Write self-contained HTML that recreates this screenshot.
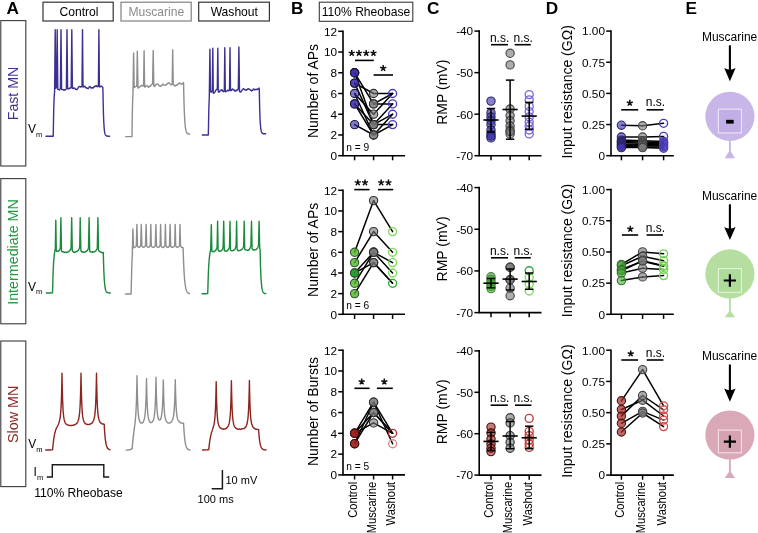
<!DOCTYPE html>
<html><head><meta charset="utf-8"><title>Figure</title>
<style>
html,body{margin:0;padding:0;background:#fff;}
svg{display:block;will-change:transform;}
text{font-family:"Liberation Sans",sans-serif;}
</style></head>
<body>
<svg width="758" height="533" viewBox="0 0 758 533">
<rect width="758" height="533" fill="#ffffff"/>
<g id="A">
<text x="6.4" y="13.5" font-size="17.2" fill="#000" text-anchor="start" font-weight="bold">A</text>
<rect x="43" y="2.2" width="70.2" height="18.8" fill="none" stroke="#333" stroke-width="1.2"/>
<text x="79" y="15.6" font-size="12.1" fill="#000" text-anchor="middle" font-weight="normal">Control</text>
<rect x="121" y="2.2" width="70.2" height="18.8" fill="none" stroke="#808080" stroke-width="1.2"/>
<text x="156.3" y="15.6" font-size="12.1" fill="#8a8a8a" text-anchor="middle" font-weight="normal">Muscarine</text>
<rect x="198.7" y="2.2" width="70.7" height="18.8" fill="none" stroke="#333" stroke-width="1.2"/>
<text x="234.3" y="15.6" font-size="12.1" fill="#000" text-anchor="middle" font-weight="normal">Washout</text>
<rect x="0.8" y="20.6" width="25.0" height="145.4" fill="none" stroke="#3a3a3a" stroke-width="1.1"/>
<rect x="0.8" y="178.6" width="25.0" height="145.2" fill="none" stroke="#3a3a3a" stroke-width="1.1"/>
<rect x="0.8" y="341" width="25.0" height="145.6" fill="none" stroke="#3a3a3a" stroke-width="1.1"/>
<text x="17.9" y="93.5" font-size="14.2" fill="#3d3494" text-anchor="middle" font-weight="normal" transform="rotate(-90 17.9 93.5)">Fast MN</text>
<text x="17.9" y="252" font-size="14.3" fill="#1f9a3d" text-anchor="middle" font-weight="normal" transform="rotate(-90 17.9 252)">Intermediate MN</text>
<text x="18.3" y="414.3" font-size="14.4" fill="#8f2a26" text-anchor="middle" font-weight="normal" transform="rotate(-90 18.3 414.3)">Slow MN</text>
<text x="27.9" y="133.0" font-size="12" fill="#000">V<tspan font-size="7.5" dy="3.6">m</tspan></text>
<text x="27.9" y="290.8" font-size="12" fill="#000">V<tspan font-size="7.5" dy="3.6">m</tspan></text>
<text x="28.3" y="448" font-size="12" fill="#000">V<tspan font-size="7.5" dy="3.6">m</tspan></text>
<text x="33.6" y="476.2" font-size="12" fill="#000">I<tspan font-size="7.5" dy="3.6">m</tspan></text>
<path d="M46.0 136.2 L46.2 136.2 L46.4 136.2 L46.6 136.2 L46.8 136.2 L47.0 136.2 L47.2 136.2 L47.4 136.2 L47.6 136.2 L47.8 136.2 L48.0 136.2 L48.2 136.2 L48.4 136.2 L48.6 136.2 L48.8 136.2 L49.0 136.2 L49.2 136.2 L49.4 136.2 L49.6 136.2 L49.8 136.2 L50.0 136.2 L50.2 136.2 L50.4 136.2 L50.6 136.2 L50.8 136.2 L51.0 136.2 L51.2 136.2 L51.4 136.2 L51.6 136.2 L51.8 136.2 L52.0 136.2 L52.2 136.2 L52.4 136.2 L52.6 136.2 L52.8 136.2 L53.0 136.2 L53.2 136.2 L53.4 127.8 L53.6 115.0 L53.8 106.6 L54.0 100.6 L54.2 96.7 L54.4 93.9 L54.6 91.6 L55.2 29.8 L55.8 88.3 L56.0 88.3 L56.2 87.8 L56.4 87.4 L56.6 87.2 L57.2 29.8 L57.8 89.4 L58.0 89.4 L58.2 89.4 L58.4 89.3 L58.6 89.4 L58.8 89.7 L59.0 89.6 L59.2 89.7 L59.4 89.9 L59.6 89.7 L59.8 89.6 L60.0 89.2 L60.2 88.7 L60.4 88.3 L61.0 29.8 L61.6 89.3 L61.8 89.5 L62.0 89.6 L62.2 89.3 L62.4 89.4 L62.6 89.4 L62.8 89.7 L63.0 89.8 L63.2 89.7 L63.4 90.1 L63.6 89.9 L63.8 89.9 L64.0 90.1 L64.2 89.9 L64.4 90.0 L64.6 89.7 L64.8 89.9 L65.0 90.0 L65.2 89.9 L65.4 90.0 L65.6 89.6 L65.8 89.4 L66.0 89.1 L66.2 88.7 L66.4 88.2 L67.0 29.8 L67.6 88.7 L67.8 88.7 L68.0 88.9 L68.2 89.0 L68.4 88.8 L68.6 88.6 L68.8 88.7 L69.0 88.4 L69.2 88.5 L69.4 88.3 L69.6 88.2 L69.8 88.0 L70.0 88.2 L70.2 88.0 L70.4 87.9 L70.6 87.8 L70.8 87.9 L71.0 87.4 L71.2 87.1 L71.8 29.8 L72.4 88.4 L72.6 88.2 L72.8 88.4 L73.0 88.6 L73.2 88.3 L73.4 88.1 L73.6 87.9 L73.8 87.9 L74.0 88.0 L74.2 88.2 L74.4 88.2 L74.6 88.1 L74.8 88.3 L75.0 88.4 L75.2 88.7 L75.4 89.2 L75.6 89.4 L75.8 89.4 L76.0 89.5 L76.2 89.6 L76.4 89.2 L76.6 89.4 L76.8 89.4 L77.0 89.5 L77.2 89.4 L77.4 89.1 L77.6 88.7 L77.8 88.2 L78.0 88.1 L78.2 87.7 L78.4 87.3 L78.6 87.0 L78.8 86.8 L79.0 86.8 L79.2 86.6 L79.4 86.4 L79.6 86.4 L79.8 86.3 L80.0 86.5 L80.2 86.4 L80.4 86.9 L80.6 87.1 L80.8 87.0 L81.0 86.9 L81.2 86.9 L81.4 86.7 L81.6 86.4 L81.8 86.5 L82.0 86.5 L82.5 29.8 L83.0 86.9 L83.2 86.7 L83.4 86.9 L83.6 86.6 L83.8 86.3 L84.0 86.6 L84.2 86.6 L84.4 86.4 L84.6 86.5 L84.8 86.3 L85.0 86.5 L85.2 87.0 L85.4 87.3 L85.6 87.6 L85.8 87.6 L86.0 87.6 L86.2 87.6 L86.4 87.9 L86.6 88.0 L86.8 88.3 L87.0 88.2 L87.2 88.0 L87.4 88.2 L87.6 88.4 L87.8 88.5 L88.0 88.5 L88.2 88.4 L88.4 88.3 L88.6 87.9 L88.8 87.7 L89.0 87.4 L89.2 87.0 L89.4 86.6 L89.6 86.5 L89.8 86.4 L90.0 86.6 L90.2 87.0 L90.4 87.0 L90.6 87.4 L90.8 87.8 L91.0 88.1 L91.2 88.0 L91.4 87.9 L91.6 87.8 L91.8 87.7 L92.0 87.6 L92.2 87.7 L92.4 88.0 L92.6 88.1 L92.8 88.0 L93.0 87.9 L93.2 87.9 L93.4 87.4 L93.6 87.2 L93.8 87.3 L94.0 87.1 L94.2 87.0 L94.4 86.7 L94.6 86.2 L94.8 86.2 L95.0 85.9 L95.2 86.0 L95.4 86.2 L95.6 86.0 L95.8 85.9 L96.0 86.2 L96.2 86.4 L96.4 86.1 L96.6 86.0 L96.8 85.8 L97.0 86.2 L97.2 86.4 L97.4 86.2 L97.6 86.3 L97.8 86.5 L98.0 86.4 L98.2 86.0 L98.4 85.7 L98.9 29.8 L99.4 86.7 L99.6 86.9 L99.8 86.7 L100.0 86.8 L100.2 86.9 L100.4 86.6 L100.6 86.4 L100.8 86.2 L101.0 86.1 L101.2 86.3 L101.4 86.2 L101.6 86.3 L101.8 86.3 L102.0 86.7 L102.2 86.8 L102.4 87.0 L102.6 87.2 L102.8 87.5 L103.0 93.1 L103.2 103.8 L103.4 111.7 L103.6 117.8 L103.8 122.4 L104.0 125.8 L104.2 128.4 L104.4 130.3 L104.6 131.8 L104.8 132.9 L105.0 133.7 L105.2 134.3 L105.4 134.8 L105.6 135.1 L105.8 135.4 L106.0 135.6 L106.2 135.8 L106.4 135.9 L106.6 135.9 L106.8 136.0 L107.0 136.1 L107.2 136.1 L107.4 136.1 L107.6 136.1 L107.8 136.2 L108.0 136.2 L108.2 136.2 L108.4 136.2 L108.6 136.2 L108.8 136.2 L109.0 136.2 L109.2 136.2 L109.4 136.2 L109.6 136.2" fill="none" stroke="#3b3193" stroke-width="1.4" stroke-linejoin="round" stroke-linecap="round"/>
<path d="M125.6 136.6 L125.8 136.6 L126.0 136.6 L126.2 136.6 L126.4 136.6 L126.6 136.6 L126.8 136.6 L127.0 136.6 L127.2 136.6 L127.4 136.6 L127.6 136.6 L127.8 136.6 L128.0 136.6 L128.2 136.6 L128.4 136.6 L128.6 136.6 L128.8 136.6 L129.0 136.6 L129.2 136.6 L129.4 136.6 L129.6 136.6 L129.8 136.6 L130.0 136.6 L130.2 136.6 L130.4 136.6 L130.6 136.6 L130.8 136.6 L131.0 136.6 L131.2 136.6 L131.4 136.6 L131.6 136.6 L131.8 136.6 L132.0 136.6 L132.2 120.4 L132.4 109.6 L132.6 102.1 L132.8 97.0 L133.0 93.4 L133.6 53.0 L134.2 87.5 L134.4 87.2 L134.6 87.2 L134.8 87.0 L135.0 86.8 L135.2 86.7 L135.4 86.7 L135.6 86.7 L135.8 86.4 L136.0 86.4 L136.2 86.3 L136.4 86.1 L136.6 86.2 L136.8 86.0 L137.3 51.3 L138.0 88.1 L138.2 88.0 L138.4 88.0 L138.6 87.8 L138.8 87.6 L139.0 87.3 L139.2 87.3 L139.4 87.2 L139.6 87.1 L139.8 87.0 L140.0 86.6 L140.2 86.3 L140.4 86.4 L140.6 86.3 L140.8 85.9 L141.0 85.6 L141.2 85.6 L141.4 85.4 L141.6 85.3 L141.8 85.2 L142.0 85.4 L142.2 85.7 L142.4 86.0 L142.6 85.8 L142.8 85.9 L143.0 86.0 L143.2 85.7 L143.4 85.8 L143.6 85.8 L144.1 50.6 L144.6 87.0 L144.8 87.1 L145.0 86.8 L145.2 86.6 L145.4 86.5 L145.6 86.3 L145.8 86.0 L146.0 85.9 L146.2 86.0 L146.4 85.8 L146.6 85.9 L146.8 86.0 L147.0 85.8 L147.2 85.9 L147.4 86.2 L147.6 86.3 L147.8 86.3 L148.0 86.7 L148.2 87.0 L148.4 87.3 L148.6 87.1 L148.8 86.9 L149.0 86.7 L149.2 86.8 L149.4 86.6 L149.6 86.3 L149.8 86.1 L150.0 86.2 L150.2 86.2 L150.4 85.8 L150.6 85.4 L150.8 85.5 L151.0 85.3 L151.2 85.2 L151.4 84.8 L151.6 84.4 L151.8 84.4 L152.0 84.3 L152.2 84.0 L152.4 84.1 L152.6 84.1 L153.2 50.4 L153.8 86.1 L154.0 86.1 L154.2 86.2 L154.4 86.5 L154.6 86.3 L154.8 86.0 L155.0 85.9 L155.2 85.6 L155.4 85.3 L155.6 85.0 L155.8 84.7 L156.0 84.4 L156.2 84.3 L156.4 84.2 L156.6 84.3 L156.8 84.2 L157.0 84.2 L157.2 84.1 L157.4 84.1 L157.6 84.0 L157.8 84.1 L158.0 84.1 L158.2 84.5 L158.4 84.8 L158.6 84.8 L158.8 85.1 L159.0 85.5 L159.2 85.5 L159.4 85.8 L159.6 85.9 L159.8 86.0 L160.0 86.2 L160.2 86.1 L160.4 86.0 L160.6 86.0 L160.8 86.2 L161.0 85.9 L161.2 85.9 L161.4 85.8 L161.6 85.7 L161.8 85.4 L162.0 85.2 L162.2 84.8 L162.4 84.5 L162.6 84.3 L162.8 84.5 L163.0 84.4 L163.2 84.3 L163.4 84.2 L163.6 84.6 L163.8 84.9 L164.0 85.1 L164.2 85.1 L164.4 85.1 L164.6 85.1 L164.8 85.1 L165.0 85.0 L165.2 85.0 L165.4 84.9 L165.6 85.1 L165.8 85.3 L166.0 85.2 L166.2 84.8 L166.4 84.9 L166.6 84.6 L166.8 84.3 L167.0 83.9 L167.2 83.7 L167.4 83.6 L167.6 83.5 L167.8 83.3 L168.0 83.3 L168.2 83.0 L168.4 83.0 L168.6 82.9 L168.8 83.1 L169.0 83.0 L169.2 83.0 L169.4 83.2 L169.6 83.3 L169.8 83.6 L170.0 83.9 L170.2 84.2 L170.4 84.4 L170.6 84.6 L170.8 84.8 L171.0 84.7 L171.2 84.5 L171.4 84.6 L171.6 84.2 L171.8 84.0 L172.0 83.8 L172.2 83.2 L172.7 49.8 L173.2 84.9 L173.4 84.7 L173.6 84.8 L173.8 84.8 L174.0 85.0 L174.2 85.2 L174.4 85.5 L174.6 85.5 L174.8 85.8 L175.0 85.9 L175.2 86.0 L175.4 85.8 L175.6 85.6 L175.8 85.4 L176.0 85.3 L176.2 85.1 L176.4 85.3 L176.6 85.2 L176.8 85.2 L177.0 85.1 L177.2 85.0 L177.4 84.8 L177.6 84.3 L177.8 84.2 L178.0 84.2 L178.2 84.0 L178.4 83.8 L178.6 83.7 L178.8 83.3 L179.0 83.4 L179.2 83.2 L179.4 83.0 L179.6 82.9 L179.8 83.2 L180.0 83.1 L180.2 83.4 L180.4 83.8 L180.6 83.8 L180.8 83.8 L181.0 83.9 L181.2 84.1 L181.4 84.2 L181.6 84.3 L181.8 84.3 L182.0 84.0 L182.2 83.7 L182.4 83.5 L182.6 83.6 L182.8 83.4 L183.0 83.3 L183.2 82.9 L183.4 82.6 L183.6 83.7 L183.8 93.8 L184.0 101.8 L184.2 108.3 L184.4 113.4 L184.6 117.6 L184.8 120.9 L185.0 123.5 L185.2 125.7 L185.4 127.4 L185.6 128.7 L185.8 129.8 L186.0 130.7 L186.2 131.4 L186.4 132.0 L186.6 132.4 L186.8 132.8 L187.0 133.0 L187.2 133.3 L187.4 133.5 L187.6 133.6 L187.8 133.7 L188.0 133.8 L188.2 133.9 L188.4 134.0 L188.6 134.0 L188.8 134.0 L189.0 134.1 L189.2 134.1 L189.4 134.1 L189.6 134.1 L189.8 134.1" fill="none" stroke="#8e8e8e" stroke-width="1.4" stroke-linejoin="round" stroke-linecap="round"/>
<path d="M202.3 135.0 L202.5 135.0 L202.7 135.0 L202.9 135.0 L203.1 135.0 L203.3 135.0 L203.5 135.0 L203.7 135.0 L203.9 135.0 L204.1 135.0 L204.3 135.0 L204.5 135.0 L204.7 135.0 L204.9 135.0 L205.1 135.0 L205.3 135.0 L205.5 135.0 L205.7 135.0 L205.9 135.0 L206.1 135.0 L206.3 135.0 L206.5 135.0 L206.7 135.0 L206.9 135.0 L207.1 135.0 L207.3 135.0 L207.5 135.0 L207.7 135.0 L207.9 135.0 L208.1 135.0 L208.3 135.0 L208.5 126.8 L208.7 115.0 L208.9 107.0 L209.1 101.4 L209.3 97.4 L209.9 49.3 L210.5 91.7 L210.7 91.8 L210.9 92.0 L211.1 91.5 L211.3 91.5 L211.5 91.6 L211.7 91.9 L211.9 91.7 L212.1 91.4 L212.3 91.1 L212.8 48.2 L213.3 92.9 L213.5 93.3 L213.7 92.9 L213.9 93.0 L214.1 92.9 L214.3 92.9 L214.5 92.7 L214.7 92.2 L214.9 92.2 L215.1 91.8 L215.3 91.2 L215.5 90.7 L215.7 90.5 L215.9 90.3 L216.1 90.0 L216.3 89.7 L216.5 89.5 L216.7 89.4 L216.9 89.5 L217.1 89.1 L217.3 89.2 L217.8 48.2 L218.3 92.0 L218.5 92.0 L218.7 91.9 L218.9 91.8 L219.1 92.1 L219.3 92.0 L219.5 91.8 L219.7 91.5 L219.9 91.2 L220.1 90.7 L220.3 90.3 L220.5 90.4 L220.7 90.2 L220.9 90.4 L221.1 90.1 L221.3 89.9 L221.5 89.9 L221.7 89.7 L221.9 89.8 L222.1 90.2 L222.3 90.5 L222.5 90.8 L222.7 91.0 L222.9 91.3 L223.1 91.6 L223.3 91.6 L223.5 91.7 L223.7 91.3 L223.9 91.3 L224.1 91.1 L224.3 91.0 L224.8 47.8 L225.3 91.8 L225.5 91.8 L225.7 91.5 L225.9 91.3 L226.1 91.3 L226.3 91.5 L226.5 91.1 L226.7 91.1 L226.9 90.8 L227.1 90.8 L227.3 90.6 L227.5 90.4 L227.7 90.2 L227.9 90.1 L228.1 90.4 L228.3 90.5 L228.5 90.3 L228.7 90.6 L228.9 90.8 L229.1 90.7 L229.3 90.2 L229.5 89.8 L230.0 47.8 L230.5 90.4 L230.7 90.5 L230.9 90.6 L231.1 90.7 L231.3 90.4 L231.5 90.2 L231.7 90.0 L231.9 89.8 L232.1 89.6 L232.3 89.2 L232.5 89.1 L232.7 89.5 L232.9 89.3 L233.1 89.4 L233.3 89.6 L233.5 90.0 L233.7 89.9 L233.9 90.0 L234.1 90.0 L234.3 90.1 L234.5 90.3 L234.7 90.7 L234.9 91.0 L235.1 91.3 L235.3 91.0 L235.5 90.6 L235.7 90.8 L235.9 90.9 L236.1 90.8 L236.3 90.7 L236.5 90.2 L236.7 89.9 L236.9 90.1 L237.1 90.1 L237.3 90.1 L237.5 90.2 L237.7 89.7 L237.9 89.3 L238.1 88.9 L238.3 88.7 L238.9 47.0 L239.5 91.6 L239.7 91.8 L239.9 91.6 L240.1 91.9 L240.3 91.8 L240.5 92.0 L240.7 92.0 L240.9 91.8 L241.1 91.4 L241.3 91.1 L241.5 91.0 L241.7 90.9 L241.9 90.4 L242.1 89.9 L242.3 89.8 L242.5 89.7 L242.7 89.4 L242.9 89.1 L243.1 89.1 L243.3 88.7 L243.5 88.6 L243.7 88.6 L243.9 89.0 L244.1 89.1 L244.3 89.5 L244.5 89.5 L244.7 89.4 L244.9 89.4 L245.1 89.8 L245.3 90.1 L245.5 90.0 L245.7 89.8 L245.9 89.8 L246.1 90.0 L246.3 89.9 L246.5 89.8 L246.7 89.8 L246.9 90.0 L247.1 89.7 L247.3 89.3 L247.5 89.1 L247.7 88.9 L247.9 89.0 L248.1 88.7 L248.3 88.9 L248.5 89.0 L248.7 88.9 L248.9 88.8 L249.1 89.1 L249.3 89.1 L249.5 89.4 L249.7 89.4 L249.9 89.4 L250.1 89.7 L250.3 89.8 L250.5 90.3 L250.7 90.4 L250.9 90.4 L251.1 90.3 L251.3 90.4 L251.5 90.6 L251.7 90.9 L251.9 90.6 L252.1 90.5 L252.3 90.3 L252.5 90.5 L252.7 90.1 L252.9 89.7 L253.1 89.3 L253.3 89.1 L253.5 89.3 L253.7 89.4 L253.9 89.4 L254.1 89.6 L254.3 89.8 L254.5 89.5 L254.7 89.3 L254.9 89.5 L255.1 89.7 L255.3 89.4 L255.5 89.6 L255.7 89.6 L255.9 89.6 L256.1 89.6 L256.3 89.4 L256.5 89.2 L256.7 89.2 L256.9 89.2 L257.1 89.6 L257.3 89.3 L257.5 89.5 L257.7 89.2 L257.9 89.0 L258.1 89.1 L258.3 89.1 L258.5 88.9 L258.7 88.4 L258.9 88.2 L259.1 88.1 L259.3 89.3 L259.5 100.3 L259.7 108.6 L259.9 114.9 L260.1 119.6 L260.3 123.1 L260.5 125.8 L260.7 127.8 L260.9 129.3 L261.1 130.4 L261.3 131.2 L261.5 131.9 L261.7 132.4 L261.9 132.7 L262.1 133.0 L262.3 133.2 L262.5 133.3 L262.7 133.5 L262.9 133.5 L263.1 133.6 L263.3 133.7 L263.5 133.7 L263.7 133.7 L263.9 133.7 L264.1 133.8 L264.3 133.8 L264.5 133.8 L264.7 133.8 L264.9 133.8 L265.1 133.8 L265.3 133.8 L265.5 133.8 L265.7 133.8" fill="none" stroke="#3b3193" stroke-width="1.4" stroke-linejoin="round" stroke-linecap="round"/>
<path d="M46.3 293.0 L46.5 293.0 L46.7 293.0 L46.9 293.0 L47.1 293.0 L47.3 293.0 L47.5 293.0 L47.7 293.0 L47.9 293.0 L48.1 293.0 L48.3 293.0 L48.5 293.0 L48.7 293.0 L48.9 293.0 L49.1 293.0 L49.3 293.0 L49.5 293.0 L49.7 293.0 L49.9 293.0 L50.1 293.0 L50.3 293.0 L50.5 293.0 L50.7 293.0 L50.9 293.0 L51.1 293.0 L51.3 292.9 L51.5 292.9 L51.7 292.9 L51.9 292.9 L52.1 292.9 L52.3 292.9 L52.5 292.8 L52.7 287.6 L52.9 279.4 L53.1 273.1 L53.3 268.3 L53.5 264.1 L53.7 261.0 L53.9 258.6 L54.1 256.7 L54.3 254.7 L54.5 253.1 L54.7 251.7 L54.9 250.8 L55.1 249.6 L55.3 248.7 L55.8 220.2 L56.3 251.0 L56.5 251.0 L56.7 251.2 L56.9 251.2 L57.1 251.2 L57.3 251.0 L57.5 251.1 L57.7 251.3 L57.9 251.4 L58.1 251.5 L58.3 251.1 L58.5 250.9 L58.7 250.7 L58.9 250.7 L59.1 250.7 L59.3 250.3 L59.5 249.9 L59.7 249.4 L59.9 249.0 L60.1 248.7 L60.3 247.9 L60.9 217.8 L61.5 251.1 L61.7 251.3 L61.9 251.4 L62.1 251.7 L62.3 251.6 L62.5 251.6 L62.7 251.8 L62.9 251.8 L63.1 251.7 L63.3 251.6 L63.5 251.8 L63.7 251.8 L63.9 252.1 L64.1 252.3 L64.3 252.6 L64.5 252.4 L64.7 252.2 L64.9 252.1 L65.1 252.1 L65.3 252.2 L65.5 252.2 L65.7 252.1 L65.9 252.1 L66.1 252.2 L66.3 252.2 L66.5 252.3 L66.7 252.5 L66.9 252.5 L67.1 252.2 L67.3 252.3 L67.5 252.2 L67.7 252.1 L67.9 252.0 L68.1 252.0 L68.3 251.8 L68.5 251.6 L68.7 251.4 L68.9 251.1 L69.1 251.2 L69.3 251.1 L69.5 250.8 L69.7 250.6 L69.9 250.6 L70.1 250.3 L70.3 249.8 L70.5 249.5 L70.7 249.1 L70.9 248.8 L71.1 248.0 L71.7 217.8 L72.3 250.9 L72.5 251.0 L72.7 251.0 L72.9 251.5 L73.1 251.6 L73.3 251.9 L73.5 252.0 L73.7 252.2 L73.9 252.2 L74.1 252.1 L74.3 252.2 L74.5 252.4 L74.7 252.2 L74.9 252.3 L75.1 252.3 L75.3 252.1 L75.5 252.1 L75.7 251.9 L75.9 251.8 L76.1 251.6 L76.3 251.7 L76.5 251.7 L76.7 251.6 L76.9 251.3 L77.1 251.2 L77.3 251.2 L77.5 251.0 L77.7 250.8 L77.9 250.6 L78.1 250.6 L78.3 250.4 L78.5 250.0 L78.7 249.5 L78.9 249.2 L79.1 248.9 L79.3 248.5 L79.5 247.8 L79.7 247.0 L80.2 217.8 L80.9 250.8 L81.1 251.1 L81.3 251.2 L81.5 251.3 L81.7 251.7 L81.9 252.0 L82.1 252.0 L82.3 251.9 L82.5 252.1 L82.7 252.0 L82.9 251.8 L83.1 252.1 L83.3 252.1 L83.5 252.2 L83.7 252.2 L83.9 252.4 L84.1 252.3 L84.3 252.1 L84.5 251.9 L84.7 251.9 L84.9 252.0 L85.1 252.1 L85.3 251.8 L85.5 251.9 L85.7 251.7 L85.9 251.6 L86.1 251.4 L86.3 251.2 L86.5 251.1 L86.7 251.2 L86.9 250.8 L87.1 250.6 L87.3 250.5 L87.5 250.4 L87.7 249.9 L87.9 249.3 L88.1 249.1 L88.3 248.8 L88.5 248.1 L89.1 217.8 L89.7 251.2 L89.9 251.3 L90.1 251.6 L90.3 251.6 L90.5 251.7 L90.7 251.9 L90.9 252.1 L91.1 252.0 L91.3 252.0 L91.5 252.0 L91.7 252.0 L91.9 252.0 L92.1 251.9 L92.3 251.8 L92.5 252.0 L92.7 252.2 L92.9 252.0 L93.1 252.0 L93.3 252.1 L93.5 251.9 L93.7 252.0 L93.9 251.8 L94.1 251.8 L94.3 251.8 L94.5 251.8 L94.7 251.6 L94.9 251.5 L95.1 251.4 L95.3 251.3 L95.5 251.2 L95.7 251.0 L95.9 250.7 L96.1 250.2 L96.3 250.0 L96.5 249.7 L96.7 249.2 L96.9 248.9 L97.1 248.5 L97.3 247.9 L97.9 217.8 L98.5 250.4 L98.7 250.7 L98.9 250.9 L99.1 251.0 L99.3 251.2 L99.5 251.2 L99.7 251.5 L99.9 251.8 L100.1 251.9 L100.3 251.8 L100.5 251.9 L100.7 251.9 L100.9 252.2 L101.1 252.1 L101.3 252.3 L101.5 252.5 L101.7 252.6 L101.9 252.8 L102.1 252.6 L102.3 252.8 L102.5 252.7 L102.7 252.9 L102.9 253.0 L103.1 252.8 L103.3 252.4 L103.5 260.5 L103.7 267.1 L103.9 272.2 L104.1 276.3 L104.3 279.6 L104.5 282.3 L104.7 284.4 L104.9 286.1 L105.1 287.5 L105.3 288.6 L105.5 289.5 L105.7 290.2 L105.9 290.7 L106.1 291.2 L106.3 291.6 L106.5 291.8 L106.7 292.1 L106.9 292.3 L107.1 292.4 L107.3 292.5 L107.5 292.6 L107.7 292.7 L107.9 292.8 L108.1 292.8 L108.3 292.8 L108.5 292.9 L108.7 292.9 L108.9 292.9 L109.1 292.9 L109.3 292.9 L109.5 293.0 L109.7 293.0 L109.9 293.0 L110.1 293.0 L110.3 293.0" fill="none" stroke="#1c8a3c" stroke-width="1.4" stroke-linejoin="round" stroke-linecap="round"/>
<path d="M125.5 294.0 L125.7 294.0 L125.9 294.0 L126.1 294.0 L126.3 294.0 L126.5 294.0 L126.7 294.0 L126.9 294.0 L127.1 294.0 L127.3 294.0 L127.5 294.0 L127.7 294.0 L127.9 294.0 L128.1 294.0 L128.3 294.0 L128.5 294.0 L128.7 294.0 L128.9 294.0 L129.1 294.0 L129.3 294.0 L129.5 294.0 L129.7 294.0 L129.9 294.0 L130.1 294.0 L130.3 294.0 L130.5 294.0 L130.7 294.0 L130.9 294.0 L131.1 294.0 L131.3 287.3 L131.5 277.2 L131.7 269.3 L131.9 263.4 L132.1 258.8 L132.3 255.1 L132.9 228.9 L133.5 247.8 L133.7 247.7 L133.9 247.6 L134.1 247.5 L134.3 247.4 L134.5 247.3 L134.7 247.2 L134.9 247.1 L135.1 247.1 L135.3 247.0 L135.5 246.9 L135.7 246.6 L135.9 246.4 L136.1 245.9 L136.3 245.5 L136.9 224.4 L137.5 246.2 L137.7 246.4 L137.9 246.8 L138.1 247.0 L138.3 247.1 L138.5 247.2 L138.7 247.2 L138.9 247.3 L139.1 247.3 L139.3 247.2 L139.5 247.2 L139.7 247.0 L139.9 246.8 L140.1 246.6 L140.3 246.3 L140.5 246.0 L140.7 245.5 L141.3 224.4 L141.9 246.0 L142.1 246.3 L142.3 246.6 L142.5 246.8 L142.7 247.0 L142.9 247.1 L143.1 247.2 L143.3 247.2 L143.5 247.2 L143.7 247.2 L143.9 247.1 L144.1 247.0 L144.3 246.9 L144.5 246.7 L144.7 246.6 L144.9 246.3 L145.1 246.1 L145.3 245.8 L145.5 245.3 L146.1 224.4 L146.7 245.9 L146.9 246.2 L147.1 246.6 L147.3 246.9 L147.5 247.1 L147.7 247.2 L147.9 247.2 L148.1 247.1 L148.3 247.2 L148.5 247.2 L148.7 247.1 L148.9 247.1 L149.1 247.0 L149.3 246.9 L149.5 246.8 L149.7 246.5 L149.9 246.2 L150.1 245.7 L150.3 245.2 L150.8 224.4 L151.3 245.7 L151.5 246.2 L151.7 246.6 L151.9 246.8 L152.1 246.9 L152.3 247.1 L152.5 247.2 L152.7 247.3 L152.9 247.4 L153.1 247.3 L153.3 247.3 L153.5 247.2 L153.7 247.1 L153.9 247.1 L154.1 247.1 L154.3 247.0 L154.5 246.8 L154.7 246.6 L154.9 246.4 L155.1 246.0 L155.3 245.6 L155.9 224.4 L156.5 245.9 L156.7 246.3 L156.9 246.6 L157.1 246.9 L157.3 247.1 L157.5 247.2 L157.7 247.2 L157.9 247.3 L158.1 247.3 L158.3 247.3 L158.5 247.2 L158.7 247.2 L158.9 247.1 L159.1 246.9 L159.3 246.8 L159.5 246.5 L159.7 246.1 L159.9 245.6 L160.1 245.2 L160.6 224.4 L161.1 245.9 L161.3 246.3 L161.5 246.7 L161.7 246.9 L161.9 247.1 L162.1 247.3 L162.3 247.4 L162.5 247.4 L162.7 247.5 L162.9 247.5 L163.1 247.5 L163.3 247.4 L163.5 247.4 L163.7 247.2 L163.9 247.0 L164.1 246.8 L164.3 246.5 L164.5 246.1 L164.7 245.8 L164.9 245.2 L165.4 224.4 L165.9 245.7 L166.1 246.1 L166.3 246.3 L166.5 246.6 L166.7 246.9 L166.9 247.0 L167.1 247.2 L167.3 247.2 L167.5 247.2 L167.7 247.2 L167.9 247.2 L168.1 247.2 L168.3 247.2 L168.5 247.0 L168.7 246.9 L168.9 246.7 L169.1 246.5 L169.3 246.0 L169.5 245.5 L170.1 224.4 L170.7 246.2 L170.9 246.5 L171.1 246.8 L171.3 246.9 L171.5 247.0 L171.7 247.2 L171.9 247.2 L172.1 247.2 L172.3 247.3 L172.5 247.2 L172.7 247.2 L172.9 247.1 L173.1 247.1 L173.3 247.0 L173.5 246.9 L173.7 246.9 L173.9 246.7 L174.1 246.5 L174.3 246.2 L174.5 245.7 L174.7 245.1 L175.2 224.4 L175.7 245.9 L175.9 246.2 L176.1 246.6 L176.3 246.8 L176.5 247.0 L176.7 247.1 L176.9 247.1 L177.1 247.1 L177.3 247.2 L177.5 247.3 L177.7 247.2 L177.9 247.2 L178.1 247.1 L178.3 247.0 L178.5 246.8 L178.7 246.7 L178.9 246.4 L179.1 246.1 L179.3 245.7 L179.5 245.2 L180.0 224.4 L180.5 245.8 L180.7 246.2 L180.9 246.5 L181.1 246.8 L181.3 247.1 L181.5 247.3 L181.7 247.4 L181.9 247.4 L182.1 247.5 L182.3 247.5 L182.5 247.6 L182.7 247.5 L182.9 247.6 L183.1 247.6 L183.3 254.2 L183.5 259.9 L183.7 264.8 L183.9 268.9 L184.1 272.5 L184.3 275.6 L184.5 278.2 L184.7 280.4 L184.9 282.4 L185.1 284.0 L185.3 285.5 L185.5 286.7 L185.7 287.7 L185.9 288.6 L186.1 289.4 L186.3 290.0 L186.5 290.6 L186.7 291.1 L186.9 291.5 L187.1 291.9 L187.3 292.2 L187.5 292.4 L187.7 292.7 L187.9 292.8 L188.1 293.0 L188.3 293.2 L188.5 293.3 L188.7 293.4 L188.9 293.5 L189.1 293.5 L189.3 293.6 L189.5 293.7" fill="none" stroke="#8e8e8e" stroke-width="1.4" stroke-linejoin="round" stroke-linecap="round"/>
<path d="M202.1 293.7 L202.3 293.7 L202.5 293.7 L202.7 293.7 L202.9 293.7 L203.1 293.7 L203.3 293.7 L203.5 293.7 L203.7 293.7 L203.9 293.7 L204.1 293.7 L204.3 293.7 L204.5 293.7 L204.7 293.7 L204.9 293.7 L205.1 293.7 L205.3 293.7 L205.5 293.7 L205.7 293.7 L205.9 293.7 L206.1 293.7 L206.3 293.7 L206.5 293.6 L206.7 293.6 L206.9 293.6 L207.1 293.6 L207.3 293.6 L207.5 293.6 L207.7 293.6 L207.9 288.7 L208.1 281.1 L208.3 275.1 L208.5 270.4 L208.7 266.5 L208.9 263.3 L209.1 260.8 L209.3 258.5 L209.5 256.7 L209.7 255.2 L209.9 253.9 L210.1 252.7 L210.3 251.6 L210.5 250.4 L210.7 249.2 L211.3 224.6 L211.9 251.3 L212.1 251.5 L212.3 251.6 L212.5 251.6 L212.7 251.6 L212.9 251.8 L213.1 251.7 L213.3 251.6 L213.5 251.5 L213.7 251.6 L213.9 251.7 L214.1 251.5 L214.3 251.3 L214.5 251.2 L214.7 251.0 L214.9 251.0 L215.1 250.7 L215.3 250.5 L215.5 250.2 L215.7 250.2 L215.9 250.0 L216.1 249.5 L216.3 249.3 L216.5 248.7 L216.7 248.1 L216.9 247.7 L217.1 247.0 L217.6 221.3 L218.1 250.3 L218.3 250.5 L218.5 250.7 L218.7 250.7 L218.9 250.8 L219.1 251.0 L219.3 251.2 L219.5 251.2 L219.7 251.3 L219.9 251.3 L220.1 251.1 L220.3 251.1 L220.5 251.0 L220.7 251.0 L220.9 251.1 L221.1 250.9 L221.3 250.7 L221.5 250.6 L221.7 250.3 L221.9 249.9 L222.1 249.7 L222.3 249.5 L222.5 249.1 L222.7 248.6 L222.9 248.1 L223.1 247.4 L223.7 221.3 L224.3 250.3 L224.5 250.6 L224.7 250.8 L224.9 251.0 L225.1 250.9 L225.3 251.0 L225.5 251.0 L225.7 251.1 L225.9 251.0 L226.1 251.1 L226.3 251.2 L226.5 251.0 L226.7 251.0 L226.9 251.0 L227.1 250.8 L227.3 250.7 L227.5 250.7 L227.7 250.3 L227.9 250.1 L228.1 249.7 L228.3 249.5 L228.5 249.3 L228.7 248.9 L228.9 248.2 L229.1 247.7 L229.3 247.1 L229.5 246.4 L230.0 221.3 L230.5 250.0 L230.7 250.4 L230.9 250.4 L231.1 250.6 L231.3 250.7 L231.5 250.8 L231.7 250.7 L231.9 250.9 L232.1 250.9 L232.3 250.7 L232.5 250.6 L232.7 250.6 L232.9 250.4 L233.1 250.4 L233.3 250.3 L233.5 250.3 L233.7 250.2 L233.9 250.0 L234.1 249.8 L234.3 249.7 L234.5 249.7 L234.7 249.5 L234.9 249.1 L235.1 248.8 L235.3 248.4 L235.5 247.8 L235.7 247.1 L235.9 246.6 L236.1 246.0 L236.6 221.3 L237.1 249.7 L237.3 249.8 L237.5 250.1 L237.7 250.4 L237.9 250.6 L238.1 250.6 L238.3 250.6 L238.5 250.6 L238.7 250.5 L238.9 250.7 L239.1 250.6 L239.3 250.8 L239.5 250.6 L239.7 250.6 L239.9 250.5 L240.1 250.4 L240.3 250.3 L240.5 250.0 L240.7 250.1 L240.9 250.0 L241.1 249.8 L241.3 249.7 L241.5 249.6 L241.7 249.4 L241.9 249.3 L242.1 249.2 L242.3 248.9 L242.5 248.8 L242.7 248.6 L242.9 248.0 L243.1 247.6 L243.3 247.2 L243.5 246.6 L243.7 245.7 L244.2 221.3 L244.7 249.2 L244.9 249.5 L245.1 249.6 L245.3 249.6 L245.5 249.6 L245.7 249.7 L245.9 249.9 L246.1 249.9 L246.3 249.9 L246.5 250.1 L246.7 250.2 L246.9 250.1 L247.1 250.2 L247.3 250.2 L247.5 250.3 L247.7 250.3 L247.9 250.3 L248.1 250.3 L248.3 250.3 L248.5 250.0 L248.7 249.9 L248.9 249.7 L249.1 249.6 L249.3 249.3 L249.5 249.2 L249.7 248.9 L249.9 248.4 L250.1 247.9 L250.3 247.3 L250.5 246.8 L250.7 246.1 L250.9 245.4 L251.5 221.3 L252.1 248.7 L252.3 249.1 L252.5 249.3 L252.7 249.5 L252.9 249.6 L253.1 249.9 L253.3 249.8 L253.5 249.8 L253.7 250.0 L253.9 249.9 L254.1 249.9 L254.3 250.0 L254.5 249.8 L254.7 249.8 L254.9 249.8 L255.1 249.9 L255.3 249.8 L255.5 249.9 L255.7 249.8 L255.9 249.6 L256.1 249.6 L256.3 249.3 L256.5 249.2 L256.7 249.1 L256.9 248.8 L257.1 248.6 L257.3 248.3 L257.5 247.9 L257.7 247.6 L257.9 247.2 L258.1 246.6 L258.3 245.9 L258.5 245.2 L259.1 221.3 L259.7 248.6 L259.9 248.8 L260.1 249.0 L260.3 257.9 L260.5 266.6 L260.7 271.2 L260.9 275.6 L261.1 279.2 L261.3 282.1 L261.5 284.4 L261.7 286.3 L261.9 287.8 L262.1 288.9 L262.3 289.9 L262.5 290.6 L262.7 291.3 L262.9 291.7 L263.1 292.1 L263.3 292.4 L263.5 292.7 L263.7 292.9 L263.9 293.1 L264.1 293.2 L264.3 293.3 L264.5 293.4 L264.7 293.4 L264.9 293.5 L265.1 293.5 L265.3 293.6 L265.5 293.6 L265.7 293.6 L265.9 293.6" fill="none" stroke="#1c8a3c" stroke-width="1.4" stroke-linejoin="round" stroke-linecap="round"/>
<path d="M45.8 450.0 L46.0 450.0 L46.2 450.0 L46.4 450.0 L46.6 450.0 L46.8 450.0 L47.0 450.0 L47.2 450.0 L47.4 450.0 L47.6 450.0 L47.8 450.0 L48.0 450.0 L48.2 450.0 L48.4 450.0 L48.6 450.0 L48.8 450.0 L49.0 450.0 L49.2 450.0 L49.4 450.0 L49.6 450.0 L49.8 450.0 L50.0 450.0 L50.2 450.0 L50.4 449.9 L50.6 449.9 L50.8 449.9 L51.0 449.9 L51.2 449.9 L51.4 449.9 L51.6 449.9 L51.8 449.9 L52.0 449.9 L52.2 449.9 L52.4 449.9 L52.6 449.8 L52.8 447.5 L53.0 445.4 L53.2 443.5 L53.4 441.7 L53.6 440.1 L53.8 438.7 L54.0 437.3 L54.2 436.2 L54.4 435.1 L54.6 434.2 L54.8 433.3 L55.0 432.5 L55.2 431.8 L55.4 431.1 L55.6 430.4 L55.8 429.8 L56.0 429.2 L56.2 428.7 L56.4 428.3 L56.6 427.9 L56.8 427.5 L57.0 427.1 L57.2 426.8 L57.4 426.4 L57.6 426.0 L57.8 425.6 L58.0 425.2 L58.2 424.7 L58.4 424.3 L58.6 423.8 L58.8 423.3 L59.0 422.7 L59.2 422.1 L59.4 421.3 L59.6 420.4 L59.8 419.4 L60.0 418.3 L60.2 417.1 L60.4 415.5 L60.6 413.5 L60.8 411.1 L61.0 408.0 L61.2 404.1 L61.4 399.1 L61.6 392.7 L61.8 384.3 L62.0 373.3 L62.2 384.5 L62.4 393.1 L62.6 399.8 L62.8 404.8 L63.0 408.8 L63.2 411.7 L63.4 414.0 L63.6 415.9 L63.8 417.4 L64.0 418.7 L64.2 419.7 L64.4 420.5 L64.6 421.1 L64.8 421.7 L65.0 422.3 L65.2 422.8 L65.4 423.2 L65.6 423.4 L65.8 423.7 L66.0 423.9 L66.2 424.1 L66.4 424.2 L66.6 424.4 L66.8 424.5 L67.0 424.6 L67.2 424.7 L67.4 424.9 L67.6 424.9 L67.8 425.1 L68.0 425.1 L68.2 425.1 L68.4 425.2 L68.6 425.2 L68.8 425.3 L69.0 425.3 L69.2 425.3 L69.4 425.4 L69.6 425.4 L69.8 425.5 L70.0 425.5 L70.2 425.5 L70.4 425.5 L70.6 425.5 L70.8 425.5 L71.0 425.6 L71.2 425.5 L71.4 425.6 L71.6 425.6 L71.8 425.5 L72.0 425.4 L72.2 425.4 L72.4 425.4 L72.6 425.3 L72.8 425.3 L73.0 425.3 L73.2 425.2 L73.4 425.2 L73.6 425.1 L73.8 425.0 L74.0 425.0 L74.2 424.9 L74.4 424.9 L74.6 424.8 L74.8 424.7 L75.0 424.6 L75.2 424.5 L75.4 424.4 L75.6 424.3 L75.8 424.2 L76.0 424.0 L76.2 423.9 L76.4 423.8 L76.6 423.6 L76.8 423.3 L77.0 423.0 L77.2 422.7 L77.4 422.4 L77.6 422.1 L77.8 421.7 L78.0 421.2 L78.2 420.6 L78.4 420.1 L78.6 419.4 L78.8 418.5 L79.0 417.4 L79.2 416.1 L79.4 414.6 L79.6 412.7 L79.8 410.3 L80.0 407.3 L80.2 403.6 L80.4 398.7 L80.6 392.4 L80.8 384.1 L81.0 373.3 L81.2 384.3 L81.4 392.8 L81.6 399.3 L81.8 404.4 L82.0 408.3 L82.2 411.3 L82.4 413.6 L82.6 415.5 L82.8 416.9 L83.0 418.1 L83.2 419.1 L83.4 419.9 L83.6 420.6 L83.8 421.2 L84.0 421.7 L84.2 422.0 L84.4 422.4 L84.6 422.7 L84.8 422.9 L85.0 423.2 L85.2 423.5 L85.4 423.6 L85.6 423.7 L85.8 423.9 L86.0 424.0 L86.2 424.1 L86.4 424.1 L86.6 424.2 L86.8 424.3 L87.0 424.4 L87.2 424.3 L87.4 424.4 L87.6 424.5 L87.8 424.5 L88.0 424.5 L88.2 424.5 L88.4 424.6 L88.6 424.6 L88.8 424.5 L89.0 424.5 L89.2 424.4 L89.4 424.3 L89.6 424.2 L89.8 424.2 L90.0 424.2 L90.2 424.1 L90.4 424.0 L90.6 423.9 L90.8 423.8 L91.0 423.6 L91.2 423.6 L91.4 423.4 L91.6 423.2 L91.8 423.1 L92.0 423.0 L92.2 422.7 L92.4 422.5 L92.6 422.2 L92.8 421.9 L93.0 421.5 L93.2 421.1 L93.4 420.7 L93.6 420.3 L93.8 419.7 L94.0 419.1 L94.2 418.2 L94.4 417.3 L94.6 416.2 L94.8 414.9 L95.0 413.2 L95.2 411.1 L95.4 408.6 L95.6 405.2 L95.8 400.9 L96.0 395.4 L96.2 388.2 L96.4 378.9 L96.5 373.2 L96.6 379.0 L96.8 388.6 L97.0 395.9 L97.2 401.7 L97.4 406.2 L97.6 409.4 L97.8 412.0 L98.0 414.0 L98.2 415.6 L98.4 417.0 L98.6 418.0 L98.8 418.9 L99.0 419.6 L99.2 420.3 L99.4 420.9 L99.6 421.3 L99.8 421.7 L100.0 421.9 L100.2 422.3 L100.4 422.6 L100.6 422.8 L100.8 422.9 L101.0 423.0 L101.2 423.2 L101.4 423.4 L101.6 423.5 L101.8 423.7 L102.0 423.7 L102.2 423.8 L102.4 423.9 L102.6 424.0 L102.8 424.1 L103.0 424.1 L103.2 424.0 L103.4 424.1 L103.6 424.2 L103.8 424.2 L104.0 424.2 L104.2 424.2 L104.4 427.9 L104.6 431.0 L104.8 433.7 L105.0 436.1 L105.2 438.1 L105.4 439.8 L105.6 441.2 L105.8 442.5 L106.0 443.6 L106.2 444.5 L106.4 445.3 L106.6 446.0 L106.8 446.5 L107.0 447.0 L107.2 447.5 L107.4 447.8 L107.6 448.2 L107.8 448.4 L108.0 448.7 L108.2 448.8 L108.4 449.0 L108.6 449.2 L108.8 449.3 L109.0 449.4 L109.2 449.5 L109.4 449.6 L109.6 449.6 L109.8 449.7 L110.0 449.7" fill="none" stroke="#8c241f" stroke-width="1.4" stroke-linejoin="round" stroke-linecap="round"/>
<path d="M126.0 450.1 L126.2 450.1 L126.4 450.1 L126.6 450.1 L126.8 450.1 L127.0 450.1 L127.2 450.1 L127.4 450.1 L127.6 450.0 L127.8 450.0 L128.0 450.0 L128.2 450.0 L128.4 450.0 L128.6 449.9 L128.8 449.9 L129.0 449.9 L129.2 449.8 L129.4 449.8 L129.6 449.8 L129.8 449.7 L130.0 449.7 L130.2 449.6 L130.4 449.5 L130.6 449.5 L130.8 449.4 L131.0 449.3 L131.2 449.2 L131.4 449.1 L131.6 449.0 L131.8 448.9 L132.0 448.7 L132.2 448.6 L132.4 445.9 L132.6 443.5 L132.8 441.2 L133.0 439.2 L133.2 437.2 L133.4 435.5 L133.6 433.8 L133.8 432.2 L134.0 430.7 L134.2 429.2 L134.4 427.8 L134.6 426.3 L134.8 424.8 L135.0 423.1 L135.2 421.3 L135.4 419.3 L135.6 417.0 L135.8 414.3 L136.0 411.0 L136.2 407.0 L136.4 401.8 L136.6 395.2 L136.8 386.7 L137.0 375.8 L137.2 386.7 L137.4 395.0 L137.6 401.3 L137.8 406.1 L138.0 409.9 L138.2 412.7 L138.4 414.9 L138.6 416.5 L138.8 417.8 L139.0 418.9 L139.2 419.8 L139.4 420.5 L139.6 421.1 L139.8 421.6 L140.0 422.0 L140.2 422.3 L140.4 422.5 L140.6 422.7 L140.8 422.9 L141.0 423.0 L141.2 423.0 L141.4 423.1 L141.6 423.1 L141.8 423.1 L142.0 423.0 L142.2 423.0 L142.4 422.8 L142.6 422.7 L142.8 422.6 L143.0 422.3 L143.2 422.0 L143.4 421.6 L143.6 421.2 L143.8 420.6 L144.0 420.1 L144.2 419.4 L144.4 418.7 L144.6 417.7 L144.8 416.4 L145.0 414.8 L145.2 413.0 L145.4 410.5 L145.6 407.5 L145.8 403.6 L146.0 398.7 L146.2 392.1 L146.4 383.6 L146.5 378.4 L146.6 383.7 L146.8 392.4 L147.0 399.1 L147.2 404.3 L147.4 408.3 L147.6 411.3 L147.8 413.7 L148.0 415.4 L148.2 416.9 L148.4 418.0 L148.6 418.9 L148.8 419.7 L149.0 420.4 L149.2 420.8 L149.4 421.2 L149.6 421.5 L149.8 421.8 L150.0 422.1 L150.2 422.2 L150.4 422.3 L150.6 422.5 L150.8 422.6 L151.0 422.6 L151.2 422.6 L151.4 422.5 L151.6 422.4 L151.8 422.3 L152.0 422.2 L152.2 422.0 L152.4 421.7 L152.6 421.5 L152.8 421.2 L153.0 420.8 L153.2 420.4 L153.4 419.9 L153.6 419.1 L153.8 418.4 L154.0 417.5 L154.2 416.4 L154.4 415.0 L154.6 413.2 L154.8 411.1 L155.0 408.3 L155.2 404.8 L155.4 400.4 L155.6 394.7 L155.8 387.1 L156.0 377.3 L156.2 387.3 L156.4 395.0 L156.6 400.8 L156.8 405.4 L157.0 409.0 L157.2 411.6 L157.4 413.5 L157.6 415.1 L157.8 416.3 L158.0 417.3 L158.2 418.0 L158.4 418.7 L158.6 419.2 L158.8 419.6 L159.0 419.8 L159.2 420.0 L159.4 420.1 L159.6 420.0 L159.8 420.1 L160.0 419.9 L160.2 419.7 L160.4 419.4 L160.6 419.0 L160.8 418.6 L161.0 418.0 L161.2 417.2 L161.4 416.4 L161.6 415.3 L161.8 413.8 L162.0 412.1 L162.2 410.0 L162.4 407.2 L162.6 403.6 L162.8 398.9 L163.0 392.9 L163.2 384.9 L163.3 379.9 L163.4 385.0 L163.6 393.3 L163.8 399.6 L164.0 404.5 L164.2 408.3 L164.4 411.2 L164.6 413.4 L164.8 415.1 L165.0 416.6 L165.2 417.6 L165.4 418.6 L165.6 419.4 L165.8 419.9 L166.0 420.5 L166.2 421.0 L166.4 421.3 L166.6 421.6 L166.8 421.9 L167.0 422.2 L167.2 422.3 L167.4 422.6 L167.6 422.7 L167.8 422.8 L168.0 422.8 L168.2 422.9 L168.4 422.9 L168.6 423.0 L168.8 423.1 L169.0 423.1 L169.2 423.1 L169.4 423.1 L169.6 423.0 L169.8 422.9 L170.0 422.9 L170.2 422.9 L170.4 422.7 L170.6 422.6 L170.8 422.4 L171.0 422.2 L171.2 422.0 L171.4 421.8 L171.6 421.5 L171.8 421.2 L172.0 420.8 L172.2 420.4 L172.4 420.1 L172.6 419.6 L172.8 419.1 L173.0 418.4 L173.2 417.7 L173.4 416.7 L173.6 415.6 L173.8 414.0 L174.0 412.2 L174.2 409.9 L174.4 407.1 L174.6 403.4 L174.8 398.7 L175.0 392.6 L175.2 384.6 L175.3 379.6 L175.4 384.7 L175.6 392.9 L175.8 399.3 L176.0 404.2 L176.2 407.9 L176.4 410.8 L176.6 413.0 L176.8 414.7 L177.0 416.1 L177.2 417.2 L177.4 418.1 L177.6 418.9 L177.8 419.5 L178.0 420.0 L178.2 420.4 L178.4 420.7 L178.6 421.0 L178.8 421.3 L179.0 421.5 L179.2 421.7 L179.4 421.9 L179.6 422.1 L179.8 422.3 L180.0 422.4 L180.2 422.6 L180.4 422.7 L180.6 422.7 L180.8 422.8 L181.0 422.9 L181.2 423.0 L181.4 423.0 L181.6 423.1 L181.8 423.1 L182.0 423.1 L182.2 423.1 L182.4 423.1 L182.6 423.1 L182.8 423.2 L183.0 423.1 L183.2 423.1 L183.4 423.2 L183.6 423.3 L183.8 427.1 L184.0 430.4 L184.2 433.2 L184.4 435.6 L184.6 437.7 L184.8 439.5 L185.0 441.0 L185.2 442.3 L185.4 443.4 L185.6 444.4 L185.8 445.2 L186.0 445.9 L186.2 446.6 L186.4 447.1 L186.6 447.5 L186.8 447.9 L187.0 448.2 L187.2 448.5 L187.4 448.8 L187.6 449.0 L187.8 449.1 L188.0 449.3 L188.2 449.4 L188.4 449.5 L188.6 449.6 L188.8 449.7 L189.0 449.8 L189.2 449.8 L189.4 449.9 L189.6 449.9 L189.8 450.0 L190.0 450.0" fill="none" stroke="#8e8e8e" stroke-width="1.4" stroke-linejoin="round" stroke-linecap="round"/>
<path d="M202.6 450.0 L202.8 450.0 L203.0 450.0 L203.2 450.0 L203.4 450.0 L203.6 450.0 L203.8 450.0 L204.0 450.0 L204.2 450.0 L204.4 450.0 L204.6 450.0 L204.8 449.9 L205.0 449.9 L205.2 449.9 L205.4 449.9 L205.6 449.9 L205.8 449.9 L206.0 449.9 L206.2 449.9 L206.4 449.9 L206.6 449.9 L206.8 449.9 L207.0 449.8 L207.2 449.8 L207.4 449.8 L207.6 449.8 L207.8 449.8 L208.0 449.7 L208.2 449.7 L208.4 449.7 L208.6 449.6 L208.8 449.6 L209.0 447.4 L209.2 445.6 L209.4 443.9 L209.6 442.3 L209.8 441.0 L210.0 439.6 L210.2 438.6 L210.4 437.4 L210.6 436.3 L210.8 435.5 L211.0 434.7 L211.2 433.8 L211.4 433.0 L211.6 432.4 L211.8 431.8 L212.0 431.1 L212.2 430.4 L212.4 430.0 L212.6 429.4 L212.8 428.7 L213.0 428.1 L213.2 427.4 L213.4 426.8 L213.6 426.0 L213.8 425.3 L214.0 424.4 L214.2 423.3 L214.4 422.1 L214.6 420.6 L214.8 418.7 L215.0 416.4 L215.2 413.6 L215.4 410.0 L215.6 405.5 L215.8 399.5 L216.0 391.8 L216.2 381.6 L216.4 391.9 L216.6 399.8 L216.8 405.8 L217.0 410.6 L217.2 414.3 L217.4 416.9 L217.6 419.1 L217.8 420.8 L218.0 422.2 L218.2 423.2 L218.4 424.1 L218.6 424.8 L218.8 425.4 L219.0 425.9 L219.2 426.3 L219.4 426.7 L219.6 427.0 L219.8 427.2 L220.0 427.6 L220.2 427.9 L220.4 428.0 L220.6 428.2 L220.8 428.2 L221.0 428.3 L221.2 428.3 L221.4 428.5 L221.6 428.6 L221.8 428.6 L222.0 428.8 L222.2 428.8 L222.4 428.9 L222.6 429.1 L222.8 429.2 L223.0 429.1 L223.2 429.1 L223.4 429.2 L223.6 429.0 L223.8 428.9 L224.0 428.9 L224.2 428.9 L224.4 429.0 L224.6 429.0 L224.8 429.0 L225.0 429.0 L225.2 428.9 L225.4 428.8 L225.6 428.8 L225.8 428.6 L226.0 428.5 L226.2 428.4 L226.4 428.2 L226.6 428.1 L226.8 428.0 L227.0 427.8 L227.2 427.5 L227.4 427.2 L227.6 426.9 L227.8 426.6 L228.0 426.3 L228.2 426.1 L228.4 425.7 L228.6 425.2 L228.8 424.5 L229.0 423.9 L229.2 423.2 L229.4 422.1 L229.6 420.9 L229.8 419.5 L230.0 417.6 L230.2 415.3 L230.4 412.7 L230.6 409.2 L230.8 404.6 L231.0 398.5 L231.2 390.9 L231.4 380.8 L231.6 391.3 L231.8 399.3 L232.0 405.5 L232.2 410.2 L232.4 413.8 L232.6 416.5 L232.8 418.6 L233.0 420.4 L233.2 421.7 L233.4 422.7 L233.6 423.7 L233.8 424.5 L234.0 425.1 L234.2 425.8 L234.4 426.3 L234.6 426.6 L234.8 426.9 L235.0 427.3 L235.2 427.5 L235.4 427.8 L235.6 427.8 L235.8 428.0 L236.0 428.2 L236.2 428.4 L236.4 428.6 L236.6 428.6 L236.8 428.7 L237.0 428.8 L237.2 428.8 L237.4 428.9 L237.6 429.0 L237.8 429.2 L238.0 429.2 L238.2 429.2 L238.4 429.2 L238.6 429.1 L238.8 429.2 L239.0 429.1 L239.2 429.1 L239.4 429.0 L239.6 429.1 L239.8 429.2 L240.0 429.2 L240.2 429.3 L240.4 429.2 L240.6 429.1 L240.8 429.2 L241.0 429.1 L241.2 429.2 L241.4 429.1 L241.6 429.0 L241.8 428.9 L242.0 428.8 L242.2 428.9 L242.4 428.9 L242.6 428.9 L242.8 428.8 L243.0 428.7 L243.2 428.6 L243.4 428.6 L243.6 428.6 L243.8 428.6 L244.0 428.5 L244.2 428.4 L244.4 428.2 L244.6 427.9 L244.8 427.8 L245.0 427.8 L245.2 427.5 L245.4 427.4 L245.6 427.2 L245.8 426.8 L246.0 426.4 L246.2 426.2 L246.4 425.7 L246.6 425.3 L246.8 424.6 L247.0 423.8 L247.2 423.1 L247.4 422.0 L247.6 420.7 L247.8 419.4 L248.0 417.6 L248.2 415.4 L248.4 412.6 L248.6 408.9 L248.8 404.3 L249.0 398.3 L249.2 390.7 L249.4 380.5 L249.6 391.0 L249.8 398.9 L250.0 405.0 L250.2 409.8 L250.4 413.5 L250.6 416.2 L250.8 418.3 L251.0 420.1 L251.2 421.5 L251.4 422.6 L251.6 423.5 L251.8 424.2 L252.0 424.9 L252.2 425.3 L252.4 425.9 L252.6 426.3 L252.8 426.6 L253.0 427.0 L253.2 427.2 L253.4 427.4 L253.6 427.8 L253.8 427.9 L254.0 428.1 L254.2 428.3 L254.4 428.5 L254.6 428.6 L254.8 428.6 L255.0 428.8 L255.2 428.9 L255.4 429.1 L255.6 429.0 L255.8 429.2 L256.0 429.3 L256.2 429.2 L256.4 429.2 L256.6 429.2 L256.8 429.3 L257.0 429.3 L257.2 429.4 L257.4 429.4 L257.6 429.4 L257.8 429.4 L258.0 429.4 L258.2 429.4 L258.4 429.5 L258.6 429.5 L258.8 432.4 L259.0 434.9 L259.2 437.1 L259.4 438.9 L259.6 440.5 L259.8 441.9 L260.0 443.0 L260.2 444.0 L260.4 444.9 L260.6 445.6 L260.8 446.3 L261.0 446.8 L261.2 447.3 L261.4 447.7 L261.6 448.0 L261.8 448.3 L262.0 448.5 L262.2 448.7 L262.4 448.9 L262.6 449.1 L262.8 449.2 L263.0 449.3 L263.2 449.4 L263.4 449.5 L263.6 449.6 L263.8 449.7 L264.0 449.7 L264.2 449.8 L264.4 449.8 L264.6 449.8 L264.8 449.9 L265.0 449.9 L265.2 449.9 L265.4 449.9 L265.6 449.9 L265.8 449.9 L266.0 450.0" fill="none" stroke="#8c241f" stroke-width="1.4" stroke-linejoin="round" stroke-linecap="round"/>
<path d="M46.8 477 H52.3 V464.7 H103.8 V477 H109.2" fill="none" stroke="#1a1a1a" stroke-width="1.4"/>
<text x="34.2" y="496.9" font-size="12.1" fill="#000" text-anchor="start" font-weight="normal">110% Rheobase</text>
<path d="M222.4 470 V488.8 H211.7" fill="none" stroke="#1a1a1a" stroke-width="1.5"/>
<text x="225.5" y="484" font-size="11" fill="#000" text-anchor="start" font-weight="normal">10 mV</text>
<text x="197.6" y="502.9" font-size="11" fill="#000" text-anchor="start" font-weight="normal">100 ms</text>
</g>
<g id="B">
<text x="290.9" y="13.5" font-size="17.2" fill="#000" text-anchor="start" font-weight="bold">B</text>
<rect x="319.3" y="2.2" width="93.5" height="19.1" fill="none" stroke="#3a3a3a" stroke-width="1.1"/>
<text x="366" y="16.4" font-size="12.1" fill="#000" text-anchor="middle" font-weight="normal">110% Rheobase</text>
<path d="M343 30.5 V155.7 H405" fill="none" stroke="#000" stroke-width="1.6"/>
<line x1="354.6" y1="155.7" x2="354.6" y2="160.29999999999998" stroke="#000" stroke-width="1.5" stroke-linecap="butt"/>
<line x1="373.6" y1="155.7" x2="373.6" y2="160.29999999999998" stroke="#000" stroke-width="1.5" stroke-linecap="butt"/>
<line x1="392.6" y1="155.7" x2="392.6" y2="160.29999999999998" stroke="#000" stroke-width="1.5" stroke-linecap="butt"/>
<line x1="338.2" y1="155.7" x2="343" y2="155.7" stroke="#000" stroke-width="1.5" stroke-linecap="butt"/>
<text x="337.0" y="160.0" font-size="11.8" fill="#000" text-anchor="end" font-weight="normal">0</text>
<line x1="338.2" y1="134.96666666666667" x2="343" y2="134.96666666666667" stroke="#000" stroke-width="1.5" stroke-linecap="butt"/>
<text x="337.0" y="139.3" font-size="11.8" fill="#000" text-anchor="end" font-weight="normal">2</text>
<line x1="338.2" y1="114.23333333333332" x2="343" y2="114.23333333333332" stroke="#000" stroke-width="1.5" stroke-linecap="butt"/>
<text x="337.0" y="118.5" font-size="11.8" fill="#000" text-anchor="end" font-weight="normal">4</text>
<line x1="338.2" y1="93.5" x2="343" y2="93.5" stroke="#000" stroke-width="1.5" stroke-linecap="butt"/>
<text x="337.0" y="97.8" font-size="11.8" fill="#000" text-anchor="end" font-weight="normal">6</text>
<line x1="338.2" y1="72.76666666666667" x2="343" y2="72.76666666666667" stroke="#000" stroke-width="1.5" stroke-linecap="butt"/>
<text x="337.0" y="77.1" font-size="11.8" fill="#000" text-anchor="end" font-weight="normal">8</text>
<line x1="338.2" y1="52.03333333333333" x2="343" y2="52.03333333333333" stroke="#000" stroke-width="1.5" stroke-linecap="butt"/>
<text x="337.0" y="56.3" font-size="11.8" fill="#000" text-anchor="end" font-weight="normal">10</text>
<line x1="338.2" y1="31.30000000000001" x2="343" y2="31.30000000000001" stroke="#000" stroke-width="1.5" stroke-linecap="butt"/>
<text x="337.0" y="35.6" font-size="11.8" fill="#000" text-anchor="end" font-weight="normal">12</text>
<text x="318.3" y="91.0" font-size="14" fill="#000" text-anchor="middle" font-weight="normal" transform="rotate(-90 318.3 91.0)">Number of APs</text>
<path d="M343 189.5 V314.3 H405" fill="none" stroke="#000" stroke-width="1.6"/>
<line x1="354.6" y1="314.3" x2="354.6" y2="318.90000000000003" stroke="#000" stroke-width="1.5" stroke-linecap="butt"/>
<line x1="373.6" y1="314.3" x2="373.6" y2="318.90000000000003" stroke="#000" stroke-width="1.5" stroke-linecap="butt"/>
<line x1="392.6" y1="314.3" x2="392.6" y2="318.90000000000003" stroke="#000" stroke-width="1.5" stroke-linecap="butt"/>
<line x1="338.2" y1="314.3" x2="343" y2="314.3" stroke="#000" stroke-width="1.5" stroke-linecap="butt"/>
<text x="337.0" y="318.6" font-size="11.8" fill="#000" text-anchor="end" font-weight="normal">0</text>
<line x1="338.2" y1="293.6333333333333" x2="343" y2="293.6333333333333" stroke="#000" stroke-width="1.5" stroke-linecap="butt"/>
<text x="337.0" y="297.9" font-size="11.8" fill="#000" text-anchor="end" font-weight="normal">2</text>
<line x1="338.2" y1="272.9666666666667" x2="343" y2="272.9666666666667" stroke="#000" stroke-width="1.5" stroke-linecap="butt"/>
<text x="337.0" y="277.3" font-size="11.8" fill="#000" text-anchor="end" font-weight="normal">4</text>
<line x1="338.2" y1="252.3" x2="343" y2="252.3" stroke="#000" stroke-width="1.5" stroke-linecap="butt"/>
<text x="337.0" y="256.6" font-size="11.8" fill="#000" text-anchor="end" font-weight="normal">6</text>
<line x1="338.2" y1="231.63333333333333" x2="343" y2="231.63333333333333" stroke="#000" stroke-width="1.5" stroke-linecap="butt"/>
<text x="337.0" y="235.9" font-size="11.8" fill="#000" text-anchor="end" font-weight="normal">8</text>
<line x1="338.2" y1="210.96666666666667" x2="343" y2="210.96666666666667" stroke="#000" stroke-width="1.5" stroke-linecap="butt"/>
<text x="337.0" y="215.3" font-size="11.8" fill="#000" text-anchor="end" font-weight="normal">10</text>
<line x1="338.2" y1="190.3" x2="343" y2="190.3" stroke="#000" stroke-width="1.5" stroke-linecap="butt"/>
<text x="337.0" y="194.6" font-size="11.8" fill="#000" text-anchor="end" font-weight="normal">12</text>
<text x="318.3" y="249.8" font-size="14" fill="#000" text-anchor="middle" font-weight="normal" transform="rotate(-90 318.3 249.8)">Number of APs</text>
<path d="M343 349.4 V474.9 H405" fill="none" stroke="#000" stroke-width="1.6"/>
<line x1="354.6" y1="474.9" x2="354.6" y2="479.5" stroke="#000" stroke-width="1.5" stroke-linecap="butt"/>
<line x1="373.6" y1="474.9" x2="373.6" y2="479.5" stroke="#000" stroke-width="1.5" stroke-linecap="butt"/>
<line x1="392.6" y1="474.9" x2="392.6" y2="479.5" stroke="#000" stroke-width="1.5" stroke-linecap="butt"/>
<line x1="338.2" y1="474.9" x2="343" y2="474.9" stroke="#000" stroke-width="1.5" stroke-linecap="butt"/>
<text x="337.0" y="479.2" font-size="11.8" fill="#000" text-anchor="end" font-weight="normal">0</text>
<line x1="338.2" y1="454.1166666666667" x2="343" y2="454.1166666666667" stroke="#000" stroke-width="1.5" stroke-linecap="butt"/>
<text x="337.0" y="458.4" font-size="11.8" fill="#000" text-anchor="end" font-weight="normal">2</text>
<line x1="338.2" y1="433.3333333333333" x2="343" y2="433.3333333333333" stroke="#000" stroke-width="1.5" stroke-linecap="butt"/>
<text x="337.0" y="437.6" font-size="11.8" fill="#000" text-anchor="end" font-weight="normal">4</text>
<line x1="338.2" y1="412.54999999999995" x2="343" y2="412.54999999999995" stroke="#000" stroke-width="1.5" stroke-linecap="butt"/>
<text x="337.0" y="416.8" font-size="11.8" fill="#000" text-anchor="end" font-weight="normal">6</text>
<line x1="338.2" y1="391.76666666666665" x2="343" y2="391.76666666666665" stroke="#000" stroke-width="1.5" stroke-linecap="butt"/>
<text x="337.0" y="396.1" font-size="11.8" fill="#000" text-anchor="end" font-weight="normal">8</text>
<line x1="338.2" y1="370.98333333333335" x2="343" y2="370.98333333333335" stroke="#000" stroke-width="1.5" stroke-linecap="butt"/>
<text x="337.0" y="375.3" font-size="11.8" fill="#000" text-anchor="end" font-weight="normal">10</text>
<line x1="338.2" y1="350.2" x2="343" y2="350.2" stroke="#000" stroke-width="1.5" stroke-linecap="butt"/>
<text x="337.0" y="354.5" font-size="11.8" fill="#000" text-anchor="end" font-weight="normal">12</text>
<text x="318.3" y="411.54999999999995" font-size="14" fill="#000" text-anchor="middle" font-weight="normal" transform="rotate(-90 318.3 411.54999999999995)">Number of Bursts</text>
<line x1="354.6" y1="72.8" x2="373.6" y2="103.9" stroke="#000" stroke-width="1.5" stroke-linecap="round"/>
<line x1="354.6" y1="72.8" x2="373.6" y2="124.6" stroke="#000" stroke-width="1.5" stroke-linecap="round"/>
<line x1="354.6" y1="83.1" x2="373.6" y2="93.5" stroke="#000" stroke-width="1.5" stroke-linecap="round"/>
<line x1="354.6" y1="83.1" x2="373.6" y2="124.6" stroke="#000" stroke-width="1.5" stroke-linecap="round"/>
<line x1="354.6" y1="93.5" x2="373.6" y2="114.2" stroke="#000" stroke-width="1.5" stroke-linecap="round"/>
<line x1="354.6" y1="93.5" x2="373.6" y2="135.0" stroke="#000" stroke-width="1.5" stroke-linecap="round"/>
<line x1="354.6" y1="103.9" x2="373.6" y2="124.6" stroke="#000" stroke-width="1.5" stroke-linecap="round"/>
<line x1="354.6" y1="103.9" x2="373.6" y2="135.0" stroke="#000" stroke-width="1.5" stroke-linecap="round"/>
<line x1="354.6" y1="124.6" x2="373.6" y2="135.0" stroke="#000" stroke-width="1.5" stroke-linecap="round"/>
<line x1="373.6" y1="93.5" x2="392.6" y2="93.5" stroke="#000" stroke-width="1.5" stroke-linecap="round"/>
<line x1="373.6" y1="103.9" x2="392.6" y2="103.9" stroke="#000" stroke-width="1.5" stroke-linecap="round"/>
<line x1="373.6" y1="114.2" x2="392.6" y2="93.5" stroke="#000" stroke-width="1.5" stroke-linecap="round"/>
<line x1="373.6" y1="124.6" x2="392.6" y2="103.9" stroke="#000" stroke-width="1.5" stroke-linecap="round"/>
<line x1="373.6" y1="124.6" x2="392.6" y2="114.2" stroke="#000" stroke-width="1.5" stroke-linecap="round"/>
<line x1="373.6" y1="135.0" x2="392.6" y2="114.2" stroke="#000" stroke-width="1.5" stroke-linecap="round"/>
<line x1="373.6" y1="124.6" x2="392.6" y2="124.6" stroke="#000" stroke-width="1.5" stroke-linecap="round"/>
<line x1="373.6" y1="135.0" x2="392.6" y2="124.6" stroke="#000" stroke-width="1.5" stroke-linecap="round"/>
<line x1="373.6" y1="103.9" x2="392.6" y2="93.5" stroke="#000" stroke-width="1.5" stroke-linecap="round"/>
<circle cx="354.6" cy="72.8" r="4.15" fill="#3526a8" fill-opacity="0.62" stroke="#1c1a3a" stroke-width="1.1"/>
<circle cx="354.6" cy="72.8" r="4.15" fill="#3526a8" fill-opacity="0.62" stroke="#1c1a3a" stroke-width="1.1"/>
<circle cx="354.6" cy="72.8" r="4.15" fill="#3526a8" fill-opacity="0.62" stroke="#1c1a3a" stroke-width="1.1"/>
<circle cx="354.6" cy="83.1" r="4.15" fill="#3526a8" fill-opacity="0.62" stroke="#1c1a3a" stroke-width="1.1"/>
<circle cx="354.6" cy="83.1" r="4.15" fill="#3526a8" fill-opacity="0.62" stroke="#1c1a3a" stroke-width="1.1"/>
<circle cx="354.6" cy="93.5" r="4.15" fill="#3526a8" fill-opacity="0.62" stroke="#1c1a3a" stroke-width="1.1"/>
<circle cx="354.6" cy="103.9" r="4.15" fill="#3526a8" fill-opacity="0.62" stroke="#1c1a3a" stroke-width="1.1"/>
<circle cx="354.6" cy="103.9" r="4.15" fill="#3526a8" fill-opacity="0.62" stroke="#1c1a3a" stroke-width="1.1"/>
<circle cx="354.6" cy="124.6" r="4.15" fill="#3526a8" fill-opacity="0.62" stroke="#1c1a3a" stroke-width="1.1"/>
<circle cx="373.6" cy="93.5" r="4.15" fill="#787575" fill-opacity="0.6" stroke="#2e2e2e" stroke-width="1.1"/>
<circle cx="373.6" cy="103.9" r="4.15" fill="#787575" fill-opacity="0.6" stroke="#2e2e2e" stroke-width="1.1"/>
<circle cx="373.6" cy="103.9" r="4.15" fill="#787575" fill-opacity="0.6" stroke="#2e2e2e" stroke-width="1.1"/>
<circle cx="373.6" cy="114.2" r="4.15" fill="#787575" fill-opacity="0.6" stroke="#2e2e2e" stroke-width="1.1"/>
<circle cx="373.6" cy="124.6" r="4.15" fill="#787575" fill-opacity="0.6" stroke="#2e2e2e" stroke-width="1.1"/>
<circle cx="373.6" cy="124.6" r="4.15" fill="#787575" fill-opacity="0.6" stroke="#2e2e2e" stroke-width="1.1"/>
<circle cx="373.6" cy="124.6" r="4.15" fill="#787575" fill-opacity="0.6" stroke="#2e2e2e" stroke-width="1.1"/>
<circle cx="373.6" cy="135.0" r="4.15" fill="#787575" fill-opacity="0.6" stroke="#2e2e2e" stroke-width="1.1"/>
<circle cx="373.6" cy="135.0" r="4.15" fill="#787575" fill-opacity="0.6" stroke="#2e2e2e" stroke-width="1.1"/>
<circle cx="392.6" cy="93.5" r="4.0" fill="none" stroke="#4a3db8" stroke-width="1.35"/>
<circle cx="392.6" cy="103.9" r="4.0" fill="none" stroke="#4a3db8" stroke-width="1.35"/>
<circle cx="392.6" cy="114.2" r="4.0" fill="none" stroke="#4a3db8" stroke-width="1.35"/>
<circle cx="392.6" cy="124.6" r="4.0" fill="none" stroke="#4a3db8" stroke-width="1.35"/>
<path d="M351.73 53.10L351.73 49.90M351.73 53.10L354.77 52.11M351.73 53.10L353.61 55.69M351.73 53.10L349.84 55.69M351.73 53.10L348.68 52.11M358.98 53.10L358.98 49.90M358.98 53.10L362.02 52.11M358.98 53.10L360.86 55.69M358.98 53.10L357.09 55.69M358.98 53.10L355.93 52.11M366.23 53.10L366.23 49.90M366.23 53.10L369.27 52.11M366.23 53.10L368.11 55.69M366.23 53.10L364.34 55.69M366.23 53.10L363.18 52.11M373.48 53.10L373.48 49.90M373.48 53.10L376.52 52.11M373.48 53.10L375.36 55.69M373.48 53.10L371.59 55.69M373.48 53.10L370.43 52.11" stroke="#111" stroke-width="1.5" fill="none"/>
<line x1="355" y1="60.4" x2="373.8" y2="60.4" stroke="#000" stroke-width="1.6" stroke-linecap="butt"/>
<path d="M383.20 68.30L383.20 65.10M383.20 68.30L386.24 67.31M383.20 68.30L385.08 70.89M383.20 68.30L381.32 70.89M383.20 68.30L380.16 67.31" stroke="#111" stroke-width="1.5" fill="none"/>
<line x1="373.6" y1="75" x2="393" y2="75" stroke="#000" stroke-width="1.6" stroke-linecap="butt"/>
<text x="346.3" y="150.7" font-size="10.2" fill="#000" text-anchor="start" font-weight="normal">n = 9</text>
<line x1="354.6" y1="252.3" x2="373.6" y2="200.6" stroke="#000" stroke-width="1.5" stroke-linecap="round"/>
<line x1="354.6" y1="262.6" x2="373.6" y2="231.6" stroke="#000" stroke-width="1.5" stroke-linecap="round"/>
<line x1="354.6" y1="273.0" x2="373.6" y2="252.3" stroke="#000" stroke-width="1.5" stroke-linecap="round"/>
<line x1="354.6" y1="273.0" x2="373.6" y2="262.6" stroke="#000" stroke-width="1.5" stroke-linecap="round"/>
<line x1="354.6" y1="283.3" x2="373.6" y2="252.3" stroke="#000" stroke-width="1.5" stroke-linecap="round"/>
<line x1="354.6" y1="293.6" x2="373.6" y2="262.6" stroke="#000" stroke-width="1.5" stroke-linecap="round"/>
<line x1="373.6" y1="200.6" x2="392.6" y2="231.6" stroke="#000" stroke-width="1.5" stroke-linecap="round"/>
<line x1="373.6" y1="231.6" x2="392.6" y2="252.3" stroke="#000" stroke-width="1.5" stroke-linecap="round"/>
<line x1="373.6" y1="252.3" x2="392.6" y2="262.6" stroke="#000" stroke-width="1.5" stroke-linecap="round"/>
<line x1="373.6" y1="252.3" x2="392.6" y2="273.0" stroke="#000" stroke-width="1.5" stroke-linecap="round"/>
<line x1="373.6" y1="262.6" x2="392.6" y2="283.3" stroke="#000" stroke-width="1.5" stroke-linecap="round"/>
<line x1="373.6" y1="262.6" x2="392.6" y2="283.3" stroke="#000" stroke-width="1.5" stroke-linecap="round"/>
<circle cx="354.6" cy="252.3" r="4.15" fill="#4fb52a" fill-opacity="0.8" stroke="#33502c" stroke-width="1.1"/>
<circle cx="354.6" cy="262.6" r="4.15" fill="#4fb52a" fill-opacity="0.8" stroke="#33502c" stroke-width="1.1"/>
<circle cx="354.6" cy="283.3" r="4.15" fill="#4fb52a" fill-opacity="0.8" stroke="#33502c" stroke-width="1.1"/>
<circle cx="354.6" cy="293.6" r="4.15" fill="#4fb52a" fill-opacity="0.8" stroke="#33502c" stroke-width="1.1"/>
<circle cx="354.6" cy="273.0" r="4.15" fill="#1f9e2a" fill-opacity="0.8" stroke="#33502c" stroke-width="1.1"/>
<circle cx="354.6" cy="273.0" r="4.15" fill="#1f9e2a" fill-opacity="0.8" stroke="#33502c" stroke-width="1.1"/>
<circle cx="373.6" cy="200.6" r="4.15" fill="#787575" fill-opacity="0.6" stroke="#2e2e2e" stroke-width="1.1"/>
<circle cx="373.6" cy="231.6" r="4.15" fill="#787575" fill-opacity="0.6" stroke="#2e2e2e" stroke-width="1.1"/>
<circle cx="373.6" cy="252.3" r="4.15" fill="#787575" fill-opacity="0.6" stroke="#2e2e2e" stroke-width="1.1"/>
<circle cx="373.6" cy="252.3" r="4.15" fill="#787575" fill-opacity="0.6" stroke="#2e2e2e" stroke-width="1.1"/>
<circle cx="373.6" cy="252.3" r="4.15" fill="#787575" fill-opacity="0.6" stroke="#2e2e2e" stroke-width="1.1"/>
<circle cx="373.6" cy="262.6" r="4.15" fill="#787575" fill-opacity="0.6" stroke="#2e2e2e" stroke-width="1.1"/>
<circle cx="373.6" cy="262.6" r="4.15" fill="#787575" fill-opacity="0.6" stroke="#2e2e2e" stroke-width="1.1"/>
<circle cx="392.6" cy="231.6" r="4.0" fill="none" stroke="#7fd95a" stroke-width="1.35"/>
<circle cx="392.6" cy="252.3" r="4.0" fill="none" stroke="#7fd95a" stroke-width="1.35"/>
<circle cx="392.6" cy="262.6" r="4.0" fill="none" stroke="#7fd95a" stroke-width="1.35"/>
<circle cx="392.6" cy="273.0" r="4.0" fill="none" stroke="#7fd95a" stroke-width="1.35"/>
<circle cx="392.6" cy="283.3" r="4.0" fill="none" stroke="#2fa535" stroke-width="1.35"/>
<path d="M357.77 182.60L357.77 179.40M357.77 182.60L360.82 181.61M357.77 182.60L359.66 185.19M357.77 182.60L355.89 185.19M357.77 182.60L354.73 181.61M365.02 182.60L365.02 179.40M365.02 182.60L368.07 181.61M365.02 182.60L366.91 185.19M365.02 182.60L363.14 185.19M365.02 182.60L361.98 181.61" stroke="#111" stroke-width="1.5" fill="none"/>
<line x1="354.3" y1="189.6" x2="369.5" y2="189.6" stroke="#000" stroke-width="1.6" stroke-linecap="butt"/>
<path d="M381.18 182.60L381.18 179.40M381.18 182.60L384.22 181.61M381.18 182.60L383.06 185.19M381.18 182.60L379.29 185.19M381.18 182.60L378.13 181.61M388.43 182.60L388.43 179.40M388.43 182.60L391.47 181.61M388.43 182.60L390.31 185.19M388.43 182.60L386.54 185.19M388.43 182.60L385.38 181.61" stroke="#111" stroke-width="1.5" fill="none"/>
<line x1="378" y1="189.6" x2="393.2" y2="189.6" stroke="#000" stroke-width="1.6" stroke-linecap="butt"/>
<text x="346.3" y="309.3" font-size="10.2" fill="#000" text-anchor="start" font-weight="normal">n = 6</text>
<line x1="354.6" y1="433.3" x2="373.6" y2="402.2" stroke="#000" stroke-width="1.5" stroke-linecap="round"/>
<line x1="354.6" y1="433.3" x2="373.6" y2="412.5" stroke="#000" stroke-width="1.5" stroke-linecap="round"/>
<line x1="354.6" y1="433.3" x2="373.6" y2="422.9" stroke="#000" stroke-width="1.5" stroke-linecap="round"/>
<line x1="354.6" y1="443.7" x2="373.6" y2="402.2" stroke="#000" stroke-width="1.5" stroke-linecap="round"/>
<line x1="354.6" y1="443.7" x2="373.6" y2="412.5" stroke="#000" stroke-width="1.5" stroke-linecap="round"/>
<line x1="373.6" y1="402.2" x2="392.6" y2="433.3" stroke="#000" stroke-width="1.5" stroke-linecap="round"/>
<line x1="373.6" y1="402.2" x2="392.6" y2="443.7" stroke="#000" stroke-width="1.5" stroke-linecap="round"/>
<line x1="373.6" y1="412.5" x2="392.6" y2="433.3" stroke="#000" stroke-width="1.5" stroke-linecap="round"/>
<line x1="373.6" y1="422.9" x2="392.6" y2="433.3" stroke="#000" stroke-width="1.5" stroke-linecap="round"/>
<line x1="373.6" y1="412.5" x2="392.6" y2="433.3" stroke="#000" stroke-width="1.5" stroke-linecap="round"/>
<circle cx="354.6" cy="433.3" r="4.15" fill="#9c1f1c" fill-opacity="0.7" stroke="#3a1010" stroke-width="1.1"/>
<circle cx="354.6" cy="433.3" r="4.15" fill="#9c1f1c" fill-opacity="0.7" stroke="#3a1010" stroke-width="1.1"/>
<circle cx="354.6" cy="433.3" r="4.15" fill="#9c1f1c" fill-opacity="0.7" stroke="#3a1010" stroke-width="1.1"/>
<circle cx="354.6" cy="443.7" r="4.15" fill="#9c1f1c" fill-opacity="0.7" stroke="#3a1010" stroke-width="1.1"/>
<circle cx="354.6" cy="443.7" r="4.15" fill="#9c1f1c" fill-opacity="0.7" stroke="#3a1010" stroke-width="1.1"/>
<circle cx="373.6" cy="402.2" r="4.15" fill="#787575" fill-opacity="0.6" stroke="#2e2e2e" stroke-width="1.1"/>
<circle cx="373.6" cy="402.2" r="4.15" fill="#787575" fill-opacity="0.6" stroke="#2e2e2e" stroke-width="1.1"/>
<circle cx="373.6" cy="412.5" r="4.15" fill="#787575" fill-opacity="0.6" stroke="#2e2e2e" stroke-width="1.1"/>
<circle cx="373.6" cy="412.5" r="4.15" fill="#787575" fill-opacity="0.6" stroke="#2e2e2e" stroke-width="1.1"/>
<circle cx="373.6" cy="422.9" r="4.15" fill="#787575" fill-opacity="0.6" stroke="#2e2e2e" stroke-width="1.1"/>
<circle cx="392.6" cy="433.3" r="4.0" fill="none" stroke="#b5302b" stroke-width="1.35"/>
<circle cx="392.6" cy="443.7" r="4.0" fill="none" stroke="#d98a88" stroke-width="1.35"/>
<path d="M361.70 381.80L361.70 378.60M361.70 381.80L364.74 380.81M361.70 381.80L363.58 384.39M361.70 381.80L359.82 384.39M361.70 381.80L358.66 380.81" stroke="#111" stroke-width="1.5" fill="none"/>
<line x1="354.4" y1="388.3" x2="369.6" y2="388.3" stroke="#000" stroke-width="1.6" stroke-linecap="butt"/>
<path d="M384.30 381.80L384.30 378.60M384.30 381.80L387.34 380.81M384.30 381.80L386.18 384.39M384.30 381.80L382.42 384.39M384.30 381.80L381.26 380.81" stroke="#111" stroke-width="1.5" fill="none"/>
<line x1="376.9" y1="388.3" x2="392.8" y2="388.3" stroke="#000" stroke-width="1.6" stroke-linecap="butt"/>
<text x="346.3" y="470" font-size="10.2" fill="#000" text-anchor="start" font-weight="normal">n = 5</text>
<text transform="translate(356.9 481.8) rotate(-90) scale(0.93 1)" font-size="12" fill="#000" text-anchor="end">Control</text>
<text transform="translate(375.9 481.8) rotate(-90) scale(0.93 1)" font-size="12" fill="#000" text-anchor="end">Muscarine</text>
<text transform="translate(394.9 481.8) rotate(-90) scale(0.93 1)" font-size="12" fill="#000" text-anchor="end">Washout</text>
</g>
<g id="C">
<text x="427.0" y="13.5" font-size="17.2" fill="#000" text-anchor="start" font-weight="bold">C</text>
<path d="M479.2 30.3 V155.7 H541.5" fill="none" stroke="#000" stroke-width="1.6"/>
<line x1="491" y1="155.7" x2="491" y2="160.29999999999998" stroke="#000" stroke-width="1.5" stroke-linecap="butt"/>
<line x1="510.1" y1="155.7" x2="510.1" y2="160.29999999999998" stroke="#000" stroke-width="1.5" stroke-linecap="butt"/>
<line x1="529.2" y1="155.7" x2="529.2" y2="160.29999999999998" stroke="#000" stroke-width="1.5" stroke-linecap="butt"/>
<line x1="474.4" y1="31.1" x2="479.2" y2="31.1" stroke="#000" stroke-width="1.5" stroke-linecap="butt"/>
<text x="473.2" y="35.4" font-size="11.8" fill="#000" text-anchor="end" font-weight="normal">-40</text>
<line x1="474.4" y1="72.63333333333333" x2="479.2" y2="72.63333333333333" stroke="#000" stroke-width="1.5" stroke-linecap="butt"/>
<text x="473.2" y="76.9" font-size="11.8" fill="#000" text-anchor="end" font-weight="normal">-50</text>
<line x1="474.4" y1="114.16666666666666" x2="479.2" y2="114.16666666666666" stroke="#000" stroke-width="1.5" stroke-linecap="butt"/>
<text x="473.2" y="118.5" font-size="11.8" fill="#000" text-anchor="end" font-weight="normal">-60</text>
<line x1="474.4" y1="155.7" x2="479.2" y2="155.7" stroke="#000" stroke-width="1.5" stroke-linecap="butt"/>
<text x="473.2" y="160.0" font-size="11.8" fill="#000" text-anchor="end" font-weight="normal">-70</text>
<text x="447.0" y="92.19999999999999" font-size="14" fill="#000" text-anchor="middle" font-weight="normal" transform="rotate(-90 447.0 92.19999999999999)">RMP (mV)</text>
<path d="M479.2 186.79999999999998 V312.6 H541.5" fill="none" stroke="#000" stroke-width="1.6"/>
<line x1="491" y1="312.6" x2="491" y2="317.20000000000005" stroke="#000" stroke-width="1.5" stroke-linecap="butt"/>
<line x1="510.1" y1="312.6" x2="510.1" y2="317.20000000000005" stroke="#000" stroke-width="1.5" stroke-linecap="butt"/>
<line x1="529.2" y1="312.6" x2="529.2" y2="317.20000000000005" stroke="#000" stroke-width="1.5" stroke-linecap="butt"/>
<line x1="474.4" y1="187.6" x2="479.2" y2="187.6" stroke="#000" stroke-width="1.5" stroke-linecap="butt"/>
<text x="473.2" y="191.9" font-size="11.8" fill="#000" text-anchor="end" font-weight="normal">-40</text>
<line x1="474.4" y1="229.26666666666668" x2="479.2" y2="229.26666666666668" stroke="#000" stroke-width="1.5" stroke-linecap="butt"/>
<text x="473.2" y="233.6" font-size="11.8" fill="#000" text-anchor="end" font-weight="normal">-50</text>
<line x1="474.4" y1="270.93333333333334" x2="479.2" y2="270.93333333333334" stroke="#000" stroke-width="1.5" stroke-linecap="butt"/>
<text x="473.2" y="275.2" font-size="11.8" fill="#000" text-anchor="end" font-weight="normal">-60</text>
<line x1="474.4" y1="312.6" x2="479.2" y2="312.6" stroke="#000" stroke-width="1.5" stroke-linecap="butt"/>
<text x="473.2" y="316.9" font-size="11.8" fill="#000" text-anchor="end" font-weight="normal">-70</text>
<text x="447.0" y="248.90000000000003" font-size="14" fill="#000" text-anchor="middle" font-weight="normal" transform="rotate(-90 447.0 248.90000000000003)">RMP (mV)</text>
<path d="M479.2 350.09999999999997 V475.1 H541.5" fill="none" stroke="#000" stroke-width="1.6"/>
<line x1="491" y1="475.1" x2="491" y2="479.70000000000005" stroke="#000" stroke-width="1.5" stroke-linecap="butt"/>
<line x1="510.1" y1="475.1" x2="510.1" y2="479.70000000000005" stroke="#000" stroke-width="1.5" stroke-linecap="butt"/>
<line x1="529.2" y1="475.1" x2="529.2" y2="479.70000000000005" stroke="#000" stroke-width="1.5" stroke-linecap="butt"/>
<line x1="474.4" y1="350.9" x2="479.2" y2="350.9" stroke="#000" stroke-width="1.5" stroke-linecap="butt"/>
<text x="473.2" y="355.2" font-size="11.8" fill="#000" text-anchor="end" font-weight="normal">-40</text>
<line x1="474.4" y1="392.3" x2="479.2" y2="392.3" stroke="#000" stroke-width="1.5" stroke-linecap="butt"/>
<text x="473.2" y="396.6" font-size="11.8" fill="#000" text-anchor="end" font-weight="normal">-50</text>
<line x1="474.4" y1="433.7" x2="479.2" y2="433.7" stroke="#000" stroke-width="1.5" stroke-linecap="butt"/>
<text x="473.2" y="438.0" font-size="11.8" fill="#000" text-anchor="end" font-weight="normal">-60</text>
<line x1="474.4" y1="475.1" x2="479.2" y2="475.1" stroke="#000" stroke-width="1.5" stroke-linecap="butt"/>
<text x="473.2" y="479.4" font-size="11.8" fill="#000" text-anchor="end" font-weight="normal">-70</text>
<text x="447.0" y="411.8" font-size="14" fill="#000" text-anchor="middle" font-weight="normal" transform="rotate(-90 447.0 411.8)">RMP (mV)</text>
<circle cx="491" cy="101.1" r="4.15" fill="#3f32b0" fill-opacity="0.62" stroke="#2a2560" stroke-width="1.1"/>
<circle cx="491" cy="112.9" r="4.15" fill="#3f32b0" fill-opacity="0.62" stroke="#2a2560" stroke-width="1.1"/>
<circle cx="491" cy="116.9" r="4.15" fill="#3f32b0" fill-opacity="0.62" stroke="#2a2560" stroke-width="1.1"/>
<circle cx="491" cy="120.8" r="4.15" fill="#3f32b0" fill-opacity="0.62" stroke="#2a2560" stroke-width="1.1"/>
<circle cx="491" cy="124.7" r="4.15" fill="#3f32b0" fill-opacity="0.62" stroke="#2a2560" stroke-width="1.1"/>
<circle cx="491" cy="130.0" r="4.15" fill="#3f32b0" fill-opacity="0.62" stroke="#2a2560" stroke-width="1.1"/>
<circle cx="491" cy="133.9" r="4.15" fill="#3f32b0" fill-opacity="0.62" stroke="#2a2560" stroke-width="1.1"/>
<circle cx="491" cy="137.9" r="4.15" fill="#3f32b0" fill-opacity="0.62" stroke="#2a2560" stroke-width="1.1"/>
<circle cx="491" cy="136.0" r="4.15" fill="#3f32b0" fill-opacity="0.62" stroke="#2a2560" stroke-width="1.1"/>
<circle cx="510.1" cy="53.3" r="4.15" fill="#7d7a7a" fill-opacity="0.62" stroke="#444" stroke-width="1.1"/>
<circle cx="510.1" cy="64.9" r="4.15" fill="#7d7a7a" fill-opacity="0.62" stroke="#444" stroke-width="1.1"/>
<circle cx="510.1" cy="109.0" r="4.15" fill="#7d7a7a" fill-opacity="0.62" stroke="#444" stroke-width="1.1"/>
<circle cx="510.1" cy="115.6" r="4.15" fill="#7d7a7a" fill-opacity="0.62" stroke="#444" stroke-width="1.1"/>
<circle cx="510.1" cy="120.8" r="4.15" fill="#7d7a7a" fill-opacity="0.62" stroke="#444" stroke-width="1.1"/>
<circle cx="510.1" cy="126.0" r="4.15" fill="#7d7a7a" fill-opacity="0.62" stroke="#444" stroke-width="1.1"/>
<circle cx="510.1" cy="130.0" r="4.15" fill="#7d7a7a" fill-opacity="0.62" stroke="#444" stroke-width="1.1"/>
<circle cx="510.1" cy="133.9" r="4.15" fill="#7d7a7a" fill-opacity="0.62" stroke="#444" stroke-width="1.1"/>
<circle cx="510.1" cy="131.5" r="4.15" fill="#7d7a7a" fill-opacity="0.62" stroke="#444" stroke-width="1.1"/>
<circle cx="529.2" cy="94.6" r="4.0" fill="none" fill-opacity="1.0" stroke="#7468d6" stroke-width="1.35"/>
<circle cx="529.2" cy="99.8" r="4.0" fill="none" fill-opacity="1.0" stroke="#7468d6" stroke-width="1.35"/>
<circle cx="529.2" cy="106.4" r="4.0" fill="none" fill-opacity="1.0" stroke="#7468d6" stroke-width="1.35"/>
<circle cx="529.2" cy="111.6" r="4.0" fill="none" fill-opacity="1.0" stroke="#7468d6" stroke-width="1.35"/>
<circle cx="529.2" cy="116.9" r="4.0" fill="none" fill-opacity="1.0" stroke="#7468d6" stroke-width="1.35"/>
<circle cx="529.2" cy="122.1" r="4.0" fill="none" fill-opacity="1.0" stroke="#7468d6" stroke-width="1.35"/>
<circle cx="529.2" cy="126.0" r="4.0" fill="none" fill-opacity="1.0" stroke="#7468d6" stroke-width="1.35"/>
<circle cx="529.2" cy="130.0" r="4.0" fill="none" fill-opacity="1.0" stroke="#7468d6" stroke-width="1.35"/>
<circle cx="529.2" cy="133.9" r="4.0" fill="none" fill-opacity="1.0" stroke="#7468d6" stroke-width="1.35"/>
<line x1="483.4" y1="120" x2="498.6" y2="120" stroke="#000" stroke-width="1.6" stroke-linecap="butt"/>
<line x1="491" y1="108.5" x2="491" y2="132.1" stroke="#000" stroke-width="1.5" stroke-linecap="butt"/>
<line x1="486.8" y1="108.5" x2="495.2" y2="108.5" stroke="#000" stroke-width="1.5" stroke-linecap="butt"/>
<line x1="486.8" y1="132.1" x2="495.2" y2="132.1" stroke="#000" stroke-width="1.5" stroke-linecap="butt"/>
<line x1="502.5" y1="109.5" x2="517.7" y2="109.5" stroke="#000" stroke-width="1.6" stroke-linecap="butt"/>
<line x1="510.1" y1="80.1" x2="510.1" y2="139.2" stroke="#000" stroke-width="1.5" stroke-linecap="butt"/>
<line x1="505.90000000000003" y1="80.1" x2="514.3000000000001" y2="80.1" stroke="#000" stroke-width="1.5" stroke-linecap="butt"/>
<line x1="505.90000000000003" y1="139.2" x2="514.3000000000001" y2="139.2" stroke="#000" stroke-width="1.5" stroke-linecap="butt"/>
<line x1="521.6" y1="116.1" x2="536.8000000000001" y2="116.1" stroke="#000" stroke-width="1.6" stroke-linecap="butt"/>
<line x1="529.2" y1="102.4" x2="529.2" y2="129.2" stroke="#000" stroke-width="1.5" stroke-linecap="butt"/>
<line x1="525.0" y1="102.4" x2="533.4000000000001" y2="102.4" stroke="#000" stroke-width="1.5" stroke-linecap="butt"/>
<line x1="525.0" y1="129.2" x2="533.4000000000001" y2="129.2" stroke="#000" stroke-width="1.5" stroke-linecap="butt"/>
<text x="499.6" y="42.2" font-size="12" fill="#000" text-anchor="middle" font-weight="normal">n.s.</text>
<line x1="491" y1="44.7" x2="508" y2="44.7" stroke="#000" stroke-width="1.6" stroke-linecap="butt"/>
<text x="523.2" y="42.2" font-size="12" fill="#000" text-anchor="middle" font-weight="normal">n.s.</text>
<line x1="514.7" y1="44.7" x2="530.8" y2="44.7" stroke="#000" stroke-width="1.6" stroke-linecap="butt"/>
<circle cx="491" cy="276.8" r="4.15" fill="#35b522" fill-opacity="0.55" stroke="#4a7f40" stroke-width="1.1"/>
<circle cx="491" cy="279.5" r="4.15" fill="#35b522" fill-opacity="0.55" stroke="#4a7f40" stroke-width="1.1"/>
<circle cx="491" cy="282.0" r="4.15" fill="#35b522" fill-opacity="0.55" stroke="#4a7f40" stroke-width="1.1"/>
<circle cx="491" cy="284.2" r="4.15" fill="#35b522" fill-opacity="0.55" stroke="#4a7f40" stroke-width="1.1"/>
<circle cx="491" cy="286.5" r="4.15" fill="#35b522" fill-opacity="0.55" stroke="#4a7f40" stroke-width="1.1"/>
<circle cx="491" cy="288.6" r="4.15" fill="#35b522" fill-opacity="0.55" stroke="#4a7f40" stroke-width="1.1"/>
<circle cx="510.1" cy="267.3" r="4.15" fill="#7d7a7a" fill-opacity="0.62" stroke="#444" stroke-width="1.1"/>
<circle cx="510.1" cy="279.8" r="4.15" fill="#7d7a7a" fill-opacity="0.62" stroke="#444" stroke-width="1.1"/>
<circle cx="510.1" cy="288.2" r="4.15" fill="#7d7a7a" fill-opacity="0.62" stroke="#444" stroke-width="1.1"/>
<circle cx="510.1" cy="295.7" r="4.15" fill="#7d7a7a" fill-opacity="0.62" stroke="#444" stroke-width="1.1"/>
<circle cx="510.1" cy="267.3" r="4.15" fill="#5a5858" fill-opacity="0.5" stroke="#444" stroke-width="1.1"/>
<circle cx="510.1" cy="279.8" r="4.15" fill="#5a5858" fill-opacity="0.5" stroke="#444" stroke-width="1.1"/>
<circle cx="529.2" cy="277.4" r="4.0" fill="none" fill-opacity="1.0" stroke="#7fd95a" stroke-width="1.35"/>
<circle cx="529.2" cy="284.2" r="4.0" fill="none" fill-opacity="1.0" stroke="#7fd95a" stroke-width="1.35"/>
<circle cx="529.2" cy="291.0" r="4.0" fill="none" fill-opacity="1.0" stroke="#7fd95a" stroke-width="1.35"/>
<circle cx="529.2" cy="270.7" r="4.0" fill="none" fill-opacity="1.0" stroke="#2fa535" stroke-width="1.35"/>
<line x1="483.4" y1="283.2" x2="498.6" y2="283.2" stroke="#000" stroke-width="1.6" stroke-linecap="butt"/>
<line x1="491" y1="278.5" x2="491" y2="287.8" stroke="#000" stroke-width="1.5" stroke-linecap="butt"/>
<line x1="486.8" y1="278.5" x2="495.2" y2="278.5" stroke="#000" stroke-width="1.5" stroke-linecap="butt"/>
<line x1="486.8" y1="287.8" x2="495.2" y2="287.8" stroke="#000" stroke-width="1.5" stroke-linecap="butt"/>
<line x1="502.5" y1="279.1" x2="517.7" y2="279.1" stroke="#000" stroke-width="1.6" stroke-linecap="butt"/>
<line x1="510.1" y1="269" x2="510.1" y2="290" stroke="#000" stroke-width="1.5" stroke-linecap="butt"/>
<line x1="505.90000000000003" y1="269" x2="514.3000000000001" y2="269" stroke="#000" stroke-width="1.5" stroke-linecap="butt"/>
<line x1="505.90000000000003" y1="290" x2="514.3000000000001" y2="290" stroke="#000" stroke-width="1.5" stroke-linecap="butt"/>
<line x1="521.6" y1="281.5" x2="536.8000000000001" y2="281.5" stroke="#000" stroke-width="1.6" stroke-linecap="butt"/>
<line x1="529.2" y1="273" x2="529.2" y2="289.3" stroke="#000" stroke-width="1.5" stroke-linecap="butt"/>
<line x1="525.0" y1="273" x2="533.4000000000001" y2="273" stroke="#000" stroke-width="1.5" stroke-linecap="butt"/>
<line x1="525.0" y1="289.3" x2="533.4000000000001" y2="289.3" stroke="#000" stroke-width="1.5" stroke-linecap="butt"/>
<text x="499.6" y="254.5" font-size="12" fill="#000" text-anchor="middle" font-weight="normal">n.s.</text>
<line x1="491" y1="257.8" x2="508" y2="257.8" stroke="#000" stroke-width="1.6" stroke-linecap="butt"/>
<text x="523.2" y="254.5" font-size="12" fill="#000" text-anchor="middle" font-weight="normal">n.s.</text>
<line x1="514.7" y1="257.8" x2="530.8" y2="257.8" stroke="#000" stroke-width="1.6" stroke-linecap="butt"/>
<circle cx="491" cy="427.1" r="4.15" fill="#a62521" fill-opacity="0.6" stroke="#3a1010" stroke-width="1.1"/>
<circle cx="491" cy="433.0" r="4.15" fill="#a62521" fill-opacity="0.6" stroke="#3a1010" stroke-width="1.1"/>
<circle cx="491" cy="439.0" r="4.15" fill="#a62521" fill-opacity="0.6" stroke="#3a1010" stroke-width="1.1"/>
<circle cx="491" cy="444.0" r="4.15" fill="#a62521" fill-opacity="0.6" stroke="#3a1010" stroke-width="1.1"/>
<circle cx="491" cy="448.2" r="4.15" fill="#a62521" fill-opacity="0.6" stroke="#3a1010" stroke-width="1.1"/>
<circle cx="491" cy="451.6" r="4.15" fill="#a62521" fill-opacity="0.6" stroke="#3a1010" stroke-width="1.1"/>
<circle cx="510.1" cy="417.8" r="4.15" fill="#7d7a7a" fill-opacity="0.62" stroke="#333" stroke-width="1.1"/>
<circle cx="510.1" cy="422.9" r="4.15" fill="#7d7a7a" fill-opacity="0.62" stroke="#333" stroke-width="1.1"/>
<circle cx="510.1" cy="435.6" r="4.15" fill="#7d7a7a" fill-opacity="0.62" stroke="#333" stroke-width="1.1"/>
<circle cx="510.1" cy="442.3" r="4.15" fill="#7d7a7a" fill-opacity="0.62" stroke="#333" stroke-width="1.1"/>
<circle cx="510.1" cy="448.2" r="4.15" fill="#7d7a7a" fill-opacity="0.62" stroke="#333" stroke-width="1.1"/>
<circle cx="529.2" cy="418.4" r="4.0" fill="none" fill-opacity="1.0" stroke="#c23a37" stroke-width="1.35"/>
<circle cx="529.2" cy="431.4" r="4.0" fill="none" fill-opacity="1.0" stroke="#c23a37" stroke-width="1.35"/>
<circle cx="529.2" cy="435.6" r="4.0" fill="none" fill-opacity="1.0" stroke="#c23a37" stroke-width="1.35"/>
<circle cx="529.2" cy="440.0" r="4.0" fill="none" fill-opacity="1.0" stroke="#c23a37" stroke-width="1.35"/>
<circle cx="529.2" cy="444.0" r="4.0" fill="none" fill-opacity="1.0" stroke="#c23a37" stroke-width="1.35"/>
<circle cx="529.2" cy="447.4" r="4.0" fill="none" fill-opacity="1.0" stroke="#c23a37" stroke-width="1.35"/>
<line x1="483.4" y1="441.4" x2="498.6" y2="441.4" stroke="#000" stroke-width="1.6" stroke-linecap="butt"/>
<line x1="491" y1="432.4" x2="491" y2="450.5" stroke="#000" stroke-width="1.5" stroke-linecap="butt"/>
<line x1="486.8" y1="432.4" x2="495.2" y2="432.4" stroke="#000" stroke-width="1.5" stroke-linecap="butt"/>
<line x1="486.8" y1="450.5" x2="495.2" y2="450.5" stroke="#000" stroke-width="1.5" stroke-linecap="butt"/>
<line x1="502.5" y1="436" x2="517.7" y2="436" stroke="#000" stroke-width="1.6" stroke-linecap="butt"/>
<line x1="510.1" y1="421.5" x2="510.1" y2="448.7" stroke="#000" stroke-width="1.5" stroke-linecap="butt"/>
<line x1="505.90000000000003" y1="421.5" x2="514.3000000000001" y2="421.5" stroke="#000" stroke-width="1.5" stroke-linecap="butt"/>
<line x1="505.90000000000003" y1="448.7" x2="514.3000000000001" y2="448.7" stroke="#000" stroke-width="1.5" stroke-linecap="butt"/>
<line x1="521.6" y1="437.8" x2="536.8000000000001" y2="437.8" stroke="#000" stroke-width="1.6" stroke-linecap="butt"/>
<line x1="529.2" y1="426.2" x2="529.2" y2="448.7" stroke="#000" stroke-width="1.5" stroke-linecap="butt"/>
<line x1="525.0" y1="426.2" x2="533.4000000000001" y2="426.2" stroke="#000" stroke-width="1.5" stroke-linecap="butt"/>
<line x1="525.0" y1="448.7" x2="533.4000000000001" y2="448.7" stroke="#000" stroke-width="1.5" stroke-linecap="butt"/>
<text x="499.6" y="401.6" font-size="12" fill="#000" text-anchor="middle" font-weight="normal">n.s.</text>
<line x1="490.6" y1="405.2" x2="507.8" y2="405.2" stroke="#000" stroke-width="1.6" stroke-linecap="butt"/>
<text x="523.2" y="401.6" font-size="12" fill="#000" text-anchor="middle" font-weight="normal">n.s.</text>
<line x1="515" y1="405.2" x2="531.4" y2="405.2" stroke="#000" stroke-width="1.6" stroke-linecap="butt"/>
<text transform="translate(493.3 481.8) rotate(-90) scale(0.93 1)" font-size="12" fill="#000" text-anchor="end">Control</text>
<text transform="translate(512.4 481.8) rotate(-90) scale(0.93 1)" font-size="12" fill="#000" text-anchor="end">Muscarine</text>
<text transform="translate(531.5 481.8) rotate(-90) scale(0.93 1)" font-size="12" fill="#000" text-anchor="end">Washout</text>
</g>
<g id="D">
<text x="545.7" y="13.5" font-size="17.2" fill="#000" text-anchor="start" font-weight="bold">D</text>
<path d="M611 30.3 V155.7 H673.8" fill="none" stroke="#000" stroke-width="1.6"/>
<line x1="621.4" y1="155.7" x2="621.4" y2="160.29999999999998" stroke="#000" stroke-width="1.5" stroke-linecap="butt"/>
<line x1="642.6" y1="155.7" x2="642.6" y2="160.29999999999998" stroke="#000" stroke-width="1.5" stroke-linecap="butt"/>
<line x1="663.6" y1="155.7" x2="663.6" y2="160.29999999999998" stroke="#000" stroke-width="1.5" stroke-linecap="butt"/>
<line x1="606.2" y1="31.1" x2="611" y2="31.1" stroke="#000" stroke-width="1.5" stroke-linecap="butt"/>
<text x="605.0" y="35.4" font-size="11.8" fill="#000" text-anchor="end" font-weight="normal">1.00</text>
<line x1="606.2" y1="62.25" x2="611" y2="62.25" stroke="#000" stroke-width="1.5" stroke-linecap="butt"/>
<text x="605.0" y="66.5" font-size="11.8" fill="#000" text-anchor="end" font-weight="normal">0.75</text>
<line x1="606.2" y1="93.4" x2="611" y2="93.4" stroke="#000" stroke-width="1.5" stroke-linecap="butt"/>
<text x="605.0" y="97.7" font-size="11.8" fill="#000" text-anchor="end" font-weight="normal">0.50</text>
<line x1="606.2" y1="124.54999999999998" x2="611" y2="124.54999999999998" stroke="#000" stroke-width="1.5" stroke-linecap="butt"/>
<text x="605.0" y="128.8" font-size="11.8" fill="#000" text-anchor="end" font-weight="normal">0.25</text>
<line x1="606.2" y1="155.7" x2="611" y2="155.7" stroke="#000" stroke-width="1.5" stroke-linecap="butt"/>
<text x="605.0" y="160.0" font-size="11.8" fill="#000" text-anchor="end" font-weight="normal">0</text>
<text x="572.4" y="91.89999999999999" font-size="14" fill="#000" text-anchor="middle" font-weight="normal" transform="rotate(-90 572.4 91.89999999999999)">Input resistance (G&#937;)</text>
<path d="M611 188.79999999999998 V314.3 H673.8" fill="none" stroke="#000" stroke-width="1.6"/>
<line x1="621.4" y1="314.3" x2="621.4" y2="318.90000000000003" stroke="#000" stroke-width="1.5" stroke-linecap="butt"/>
<line x1="642.6" y1="314.3" x2="642.6" y2="318.90000000000003" stroke="#000" stroke-width="1.5" stroke-linecap="butt"/>
<line x1="663.6" y1="314.3" x2="663.6" y2="318.90000000000003" stroke="#000" stroke-width="1.5" stroke-linecap="butt"/>
<line x1="606.2" y1="189.6" x2="611" y2="189.6" stroke="#000" stroke-width="1.5" stroke-linecap="butt"/>
<text x="605.0" y="193.9" font-size="11.8" fill="#000" text-anchor="end" font-weight="normal">1.00</text>
<line x1="606.2" y1="220.775" x2="611" y2="220.775" stroke="#000" stroke-width="1.5" stroke-linecap="butt"/>
<text x="605.0" y="225.1" font-size="11.8" fill="#000" text-anchor="end" font-weight="normal">0.75</text>
<line x1="606.2" y1="251.95" x2="611" y2="251.95" stroke="#000" stroke-width="1.5" stroke-linecap="butt"/>
<text x="605.0" y="256.2" font-size="11.8" fill="#000" text-anchor="end" font-weight="normal">0.50</text>
<line x1="606.2" y1="283.125" x2="611" y2="283.125" stroke="#000" stroke-width="1.5" stroke-linecap="butt"/>
<text x="605.0" y="287.4" font-size="11.8" fill="#000" text-anchor="end" font-weight="normal">0.25</text>
<line x1="606.2" y1="314.3" x2="611" y2="314.3" stroke="#000" stroke-width="1.5" stroke-linecap="butt"/>
<text x="605.0" y="318.6" font-size="11.8" fill="#000" text-anchor="end" font-weight="normal">0</text>
<text x="572.4" y="250.45" font-size="14" fill="#000" text-anchor="middle" font-weight="normal" transform="rotate(-90 572.4 250.45)">Input resistance (G&#937;)</text>
<path d="M611 349.4 V475.1 H673.8" fill="none" stroke="#000" stroke-width="1.6"/>
<line x1="621.4" y1="475.1" x2="621.4" y2="479.70000000000005" stroke="#000" stroke-width="1.5" stroke-linecap="butt"/>
<line x1="642.6" y1="475.1" x2="642.6" y2="479.70000000000005" stroke="#000" stroke-width="1.5" stroke-linecap="butt"/>
<line x1="663.6" y1="475.1" x2="663.6" y2="479.70000000000005" stroke="#000" stroke-width="1.5" stroke-linecap="butt"/>
<line x1="606.2" y1="350.2" x2="611" y2="350.2" stroke="#000" stroke-width="1.5" stroke-linecap="butt"/>
<text x="605.0" y="354.5" font-size="11.8" fill="#000" text-anchor="end" font-weight="normal">1.00</text>
<line x1="606.2" y1="381.425" x2="611" y2="381.425" stroke="#000" stroke-width="1.5" stroke-linecap="butt"/>
<text x="605.0" y="385.7" font-size="11.8" fill="#000" text-anchor="end" font-weight="normal">0.75</text>
<line x1="606.2" y1="412.65" x2="611" y2="412.65" stroke="#000" stroke-width="1.5" stroke-linecap="butt"/>
<text x="605.0" y="416.9" font-size="11.8" fill="#000" text-anchor="end" font-weight="normal">0.50</text>
<line x1="606.2" y1="443.875" x2="611" y2="443.875" stroke="#000" stroke-width="1.5" stroke-linecap="butt"/>
<text x="605.0" y="448.2" font-size="11.8" fill="#000" text-anchor="end" font-weight="normal">0.25</text>
<line x1="606.2" y1="475.1" x2="611" y2="475.1" stroke="#000" stroke-width="1.5" stroke-linecap="butt"/>
<text x="605.0" y="479.4" font-size="11.8" fill="#000" text-anchor="end" font-weight="normal">0</text>
<text x="572.4" y="411.15" font-size="14" fill="#000" text-anchor="middle" font-weight="normal" transform="rotate(-90 572.4 411.15)">Input resistance (G&#937;)</text>
<line x1="621.4" y1="125.2" x2="642.6" y2="125.8" stroke="#000" stroke-width="1.5" stroke-linecap="round"/>
<line x1="621.4" y1="137.0" x2="642.6" y2="137.0" stroke="#000" stroke-width="1.5" stroke-linecap="round"/>
<line x1="621.4" y1="140.1" x2="642.6" y2="140.7" stroke="#000" stroke-width="1.5" stroke-linecap="round"/>
<line x1="621.4" y1="141.4" x2="642.6" y2="142.0" stroke="#000" stroke-width="1.5" stroke-linecap="round"/>
<line x1="621.4" y1="142.6" x2="642.6" y2="143.2" stroke="#000" stroke-width="1.5" stroke-linecap="round"/>
<line x1="621.4" y1="143.9" x2="642.6" y2="144.5" stroke="#000" stroke-width="1.5" stroke-linecap="round"/>
<line x1="621.4" y1="145.1" x2="642.6" y2="145.7" stroke="#000" stroke-width="1.5" stroke-linecap="round"/>
<line x1="621.4" y1="146.4" x2="642.6" y2="147.0" stroke="#000" stroke-width="1.5" stroke-linecap="round"/>
<line x1="621.4" y1="147.6" x2="642.6" y2="147.6" stroke="#000" stroke-width="1.5" stroke-linecap="round"/>
<line x1="642.6" y1="125.8" x2="663.6" y2="123.3" stroke="#000" stroke-width="1.5" stroke-linecap="round"/>
<line x1="642.6" y1="137.0" x2="663.6" y2="136.4" stroke="#000" stroke-width="1.5" stroke-linecap="round"/>
<line x1="642.6" y1="140.7" x2="663.6" y2="141.4" stroke="#000" stroke-width="1.5" stroke-linecap="round"/>
<line x1="642.6" y1="142.0" x2="663.6" y2="142.6" stroke="#000" stroke-width="1.5" stroke-linecap="round"/>
<line x1="642.6" y1="143.2" x2="663.6" y2="143.2" stroke="#000" stroke-width="1.5" stroke-linecap="round"/>
<line x1="642.6" y1="144.5" x2="663.6" y2="144.5" stroke="#000" stroke-width="1.5" stroke-linecap="round"/>
<line x1="642.6" y1="145.7" x2="663.6" y2="145.7" stroke="#000" stroke-width="1.5" stroke-linecap="round"/>
<line x1="642.6" y1="147.0" x2="663.6" y2="147.0" stroke="#000" stroke-width="1.5" stroke-linecap="round"/>
<line x1="642.6" y1="147.6" x2="663.6" y2="148.2" stroke="#000" stroke-width="1.5" stroke-linecap="round"/>
<circle cx="621.4" cy="125.2" r="4.15" fill="#3f32b0" fill-opacity="0.62" stroke="#2a2560" stroke-width="1.1"/>
<circle cx="621.4" cy="137.0" r="4.15" fill="#3f32b0" fill-opacity="0.62" stroke="#2a2560" stroke-width="1.1"/>
<circle cx="621.4" cy="140.1" r="4.15" fill="#3f32b0" fill-opacity="0.62" stroke="#2a2560" stroke-width="1.1"/>
<circle cx="621.4" cy="141.4" r="4.15" fill="#3f32b0" fill-opacity="0.62" stroke="#2a2560" stroke-width="1.1"/>
<circle cx="621.4" cy="142.6" r="4.15" fill="#3f32b0" fill-opacity="0.62" stroke="#2a2560" stroke-width="1.1"/>
<circle cx="621.4" cy="143.9" r="4.15" fill="#3f32b0" fill-opacity="0.62" stroke="#2a2560" stroke-width="1.1"/>
<circle cx="621.4" cy="145.1" r="4.15" fill="#3f32b0" fill-opacity="0.62" stroke="#2a2560" stroke-width="1.1"/>
<circle cx="621.4" cy="146.4" r="4.15" fill="#3f32b0" fill-opacity="0.62" stroke="#2a2560" stroke-width="1.1"/>
<circle cx="621.4" cy="147.6" r="4.15" fill="#3f32b0" fill-opacity="0.62" stroke="#2a2560" stroke-width="1.1"/>
<circle cx="642.6" cy="125.8" r="4.15" fill="#7d7a7a" fill-opacity="0.62" stroke="#444" stroke-width="1.1"/>
<circle cx="642.6" cy="137.0" r="4.15" fill="#7d7a7a" fill-opacity="0.62" stroke="#444" stroke-width="1.1"/>
<circle cx="642.6" cy="140.7" r="4.15" fill="#7d7a7a" fill-opacity="0.62" stroke="#444" stroke-width="1.1"/>
<circle cx="642.6" cy="142.0" r="4.15" fill="#7d7a7a" fill-opacity="0.62" stroke="#444" stroke-width="1.1"/>
<circle cx="642.6" cy="143.2" r="4.15" fill="#7d7a7a" fill-opacity="0.62" stroke="#444" stroke-width="1.1"/>
<circle cx="642.6" cy="144.5" r="4.15" fill="#7d7a7a" fill-opacity="0.62" stroke="#444" stroke-width="1.1"/>
<circle cx="642.6" cy="145.7" r="4.15" fill="#7d7a7a" fill-opacity="0.62" stroke="#444" stroke-width="1.1"/>
<circle cx="642.6" cy="147.0" r="4.15" fill="#7d7a7a" fill-opacity="0.62" stroke="#444" stroke-width="1.1"/>
<circle cx="642.6" cy="147.6" r="4.15" fill="#7d7a7a" fill-opacity="0.62" stroke="#444" stroke-width="1.1"/>
<circle cx="663.6" cy="123.3" r="4.0" fill="none" fill-opacity="1.0" stroke="#4a3db8" stroke-width="1.35"/>
<circle cx="663.6" cy="136.4" r="4.0" fill="none" fill-opacity="1.0" stroke="#4a3db8" stroke-width="1.35"/>
<circle cx="663.6" cy="141.4" r="4.0" fill="none" fill-opacity="1.0" stroke="#4a3db8" stroke-width="1.35"/>
<circle cx="663.6" cy="142.6" r="4.0" fill="none" fill-opacity="1.0" stroke="#4a3db8" stroke-width="1.35"/>
<circle cx="663.6" cy="143.2" r="4.0" fill="none" fill-opacity="1.0" stroke="#4a3db8" stroke-width="1.35"/>
<circle cx="663.6" cy="144.5" r="4.0" fill="none" fill-opacity="1.0" stroke="#4a3db8" stroke-width="1.35"/>
<circle cx="663.6" cy="145.7" r="4.0" fill="none" fill-opacity="1.0" stroke="#4a3db8" stroke-width="1.35"/>
<circle cx="663.6" cy="147.0" r="4.0" fill="none" fill-opacity="1.0" stroke="#4a3db8" stroke-width="1.35"/>
<circle cx="663.6" cy="148.2" r="4.0" fill="none" fill-opacity="1.0" stroke="#4a3db8" stroke-width="1.35"/>
<path d="M629.80 103.00L629.80 99.80M629.80 103.00L632.84 102.01M629.80 103.00L631.68 105.59M629.80 103.00L627.92 105.59M629.80 103.00L626.76 102.01" stroke="#111" stroke-width="1.5" fill="none"/>
<line x1="621.2" y1="109.8" x2="638.2" y2="109.8" stroke="#000" stroke-width="1.6" stroke-linecap="butt"/>
<text x="655.4" y="106.4" font-size="12" fill="#000" text-anchor="middle" font-weight="normal">n.s.</text>
<line x1="646.6" y1="109.8" x2="663.4" y2="109.8" stroke="#000" stroke-width="1.6" stroke-linecap="butt"/>
<line x1="621.4" y1="264.4" x2="642.6" y2="251.9" stroke="#000" stroke-width="1.5" stroke-linecap="round"/>
<line x1="621.4" y1="265.7" x2="642.6" y2="256.3" stroke="#000" stroke-width="1.5" stroke-linecap="round"/>
<line x1="621.4" y1="269.4" x2="642.6" y2="261.3" stroke="#000" stroke-width="1.5" stroke-linecap="round"/>
<line x1="621.4" y1="270.7" x2="642.6" y2="260.7" stroke="#000" stroke-width="1.5" stroke-linecap="round"/>
<line x1="621.4" y1="273.1" x2="642.6" y2="268.2" stroke="#000" stroke-width="1.5" stroke-linecap="round"/>
<line x1="621.4" y1="280.6" x2="642.6" y2="276.9" stroke="#000" stroke-width="1.5" stroke-linecap="round"/>
<line x1="642.6" y1="251.9" x2="663.6" y2="253.8" stroke="#000" stroke-width="1.5" stroke-linecap="round"/>
<line x1="642.6" y1="256.3" x2="663.6" y2="260.7" stroke="#000" stroke-width="1.5" stroke-linecap="round"/>
<line x1="642.6" y1="261.3" x2="663.6" y2="266.3" stroke="#000" stroke-width="1.5" stroke-linecap="round"/>
<line x1="642.6" y1="260.7" x2="663.6" y2="265.7" stroke="#000" stroke-width="1.5" stroke-linecap="round"/>
<line x1="642.6" y1="268.2" x2="663.6" y2="269.4" stroke="#000" stroke-width="1.5" stroke-linecap="round"/>
<line x1="642.6" y1="276.9" x2="663.6" y2="275.6" stroke="#000" stroke-width="1.5" stroke-linecap="round"/>
<circle cx="621.4" cy="264.4" r="4.15" fill="#3fb02f" fill-opacity="0.6" stroke="#3c6b35" stroke-width="1.1"/>
<circle cx="621.4" cy="265.7" r="4.15" fill="#3fb02f" fill-opacity="0.6" stroke="#3c6b35" stroke-width="1.1"/>
<circle cx="621.4" cy="269.4" r="4.15" fill="#3fb02f" fill-opacity="0.6" stroke="#3c6b35" stroke-width="1.1"/>
<circle cx="621.4" cy="270.7" r="4.15" fill="#3fb02f" fill-opacity="0.6" stroke="#3c6b35" stroke-width="1.1"/>
<circle cx="621.4" cy="273.1" r="4.15" fill="#3fb02f" fill-opacity="0.6" stroke="#3c6b35" stroke-width="1.1"/>
<circle cx="621.4" cy="280.6" r="4.15" fill="#3fb02f" fill-opacity="0.6" stroke="#3c6b35" stroke-width="1.1"/>
<circle cx="642.6" cy="251.9" r="4.15" fill="#7d7a7a" fill-opacity="0.62" stroke="#444" stroke-width="1.1"/>
<circle cx="642.6" cy="256.3" r="4.15" fill="#7d7a7a" fill-opacity="0.62" stroke="#444" stroke-width="1.1"/>
<circle cx="642.6" cy="261.3" r="4.15" fill="#7d7a7a" fill-opacity="0.62" stroke="#444" stroke-width="1.1"/>
<circle cx="642.6" cy="260.7" r="4.15" fill="#7d7a7a" fill-opacity="0.62" stroke="#444" stroke-width="1.1"/>
<circle cx="642.6" cy="268.2" r="4.15" fill="#7d7a7a" fill-opacity="0.62" stroke="#444" stroke-width="1.1"/>
<circle cx="642.6" cy="276.9" r="4.15" fill="#7d7a7a" fill-opacity="0.62" stroke="#444" stroke-width="1.1"/>
<circle cx="663.6" cy="253.8" r="4.0" fill="none" fill-opacity="1.0" stroke="#6fd04f" stroke-width="1.35"/>
<circle cx="663.6" cy="260.7" r="4.0" fill="none" fill-opacity="1.0" stroke="#6fd04f" stroke-width="1.35"/>
<circle cx="663.6" cy="266.3" r="4.0" fill="none" fill-opacity="1.0" stroke="#6fd04f" stroke-width="1.35"/>
<circle cx="663.6" cy="265.7" r="4.0" fill="none" fill-opacity="1.0" stroke="#6fd04f" stroke-width="1.35"/>
<circle cx="663.6" cy="269.4" r="4.0" fill="none" fill-opacity="1.0" stroke="#6fd04f" stroke-width="1.35"/>
<circle cx="663.6" cy="275.6" r="4.0" fill="none" fill-opacity="1.0" stroke="#6fd04f" stroke-width="1.35"/>
<path d="M630.30 229.00L630.30 225.80M630.30 229.00L633.34 228.01M630.30 229.00L632.18 231.59M630.30 229.00L628.42 231.59M630.30 229.00L627.26 228.01" stroke="#111" stroke-width="1.5" fill="none"/>
<line x1="621.9" y1="235" x2="638.2" y2="235" stroke="#000" stroke-width="1.6" stroke-linecap="butt"/>
<text x="655.4" y="231.8" font-size="12" fill="#000" text-anchor="middle" font-weight="normal">n.s.</text>
<line x1="646.6" y1="235" x2="662.9" y2="235" stroke="#000" stroke-width="1.6" stroke-linecap="butt"/>
<line x1="621.4" y1="400.8" x2="642.6" y2="369.6" stroke="#000" stroke-width="1.5" stroke-linecap="round"/>
<line x1="621.4" y1="409.5" x2="642.6" y2="400.2" stroke="#000" stroke-width="1.5" stroke-linecap="round"/>
<line x1="621.4" y1="416.1" x2="642.6" y2="395.5" stroke="#000" stroke-width="1.5" stroke-linecap="round"/>
<line x1="621.4" y1="423.3" x2="642.6" y2="411.4" stroke="#000" stroke-width="1.5" stroke-linecap="round"/>
<line x1="621.4" y1="432.0" x2="642.6" y2="413.0" stroke="#000" stroke-width="1.5" stroke-linecap="round"/>
<line x1="642.6" y1="369.6" x2="663.6" y2="405.8" stroke="#000" stroke-width="1.5" stroke-linecap="round"/>
<line x1="642.6" y1="400.2" x2="663.6" y2="416.0" stroke="#000" stroke-width="1.5" stroke-linecap="round"/>
<line x1="642.6" y1="395.5" x2="663.6" y2="409.8" stroke="#000" stroke-width="1.5" stroke-linecap="round"/>
<line x1="642.6" y1="411.4" x2="663.6" y2="420.1" stroke="#000" stroke-width="1.5" stroke-linecap="round"/>
<line x1="642.6" y1="413.0" x2="663.6" y2="426.6" stroke="#000" stroke-width="1.5" stroke-linecap="round"/>
<circle cx="621.4" cy="400.8" r="4.15" fill="#a62521" fill-opacity="0.7" stroke="#4a1414" stroke-width="1.1"/>
<circle cx="621.4" cy="409.5" r="4.15" fill="#a62521" fill-opacity="0.7" stroke="#4a1414" stroke-width="1.1"/>
<circle cx="621.4" cy="416.1" r="4.15" fill="#a62521" fill-opacity="0.7" stroke="#4a1414" stroke-width="1.1"/>
<circle cx="621.4" cy="423.3" r="4.15" fill="#a62521" fill-opacity="0.7" stroke="#4a1414" stroke-width="1.1"/>
<circle cx="621.4" cy="432.0" r="4.15" fill="#a62521" fill-opacity="0.7" stroke="#4a1414" stroke-width="1.1"/>
<circle cx="642.6" cy="369.6" r="4.15" fill="#7d7a7a" fill-opacity="0.62" stroke="#444" stroke-width="1.1"/>
<circle cx="642.6" cy="400.2" r="4.15" fill="#7d7a7a" fill-opacity="0.62" stroke="#444" stroke-width="1.1"/>
<circle cx="642.6" cy="395.5" r="4.15" fill="#7d7a7a" fill-opacity="0.62" stroke="#444" stroke-width="1.1"/>
<circle cx="642.6" cy="411.4" r="4.15" fill="#7d7a7a" fill-opacity="0.62" stroke="#444" stroke-width="1.1"/>
<circle cx="642.6" cy="413.0" r="4.15" fill="#7d7a7a" fill-opacity="0.62" stroke="#444" stroke-width="1.1"/>
<circle cx="663.6" cy="405.8" r="4.0" fill="none" fill-opacity="1.0" stroke="#c8504c" stroke-width="1.35"/>
<circle cx="663.6" cy="416.0" r="4.0" fill="none" fill-opacity="1.0" stroke="#c8504c" stroke-width="1.35"/>
<circle cx="663.6" cy="409.8" r="4.0" fill="none" fill-opacity="1.0" stroke="#c8504c" stroke-width="1.35"/>
<circle cx="663.6" cy="420.1" r="4.0" fill="none" fill-opacity="1.0" stroke="#c8504c" stroke-width="1.35"/>
<circle cx="663.6" cy="426.6" r="4.0" fill="none" fill-opacity="1.0" stroke="#c8504c" stroke-width="1.35"/>
<path d="M630.70 353.70L630.70 350.50M630.70 353.70L633.74 352.71M630.70 353.70L632.58 356.29M630.70 353.70L628.82 356.29M630.70 353.70L627.66 352.71" stroke="#111" stroke-width="1.5" fill="none"/>
<line x1="621.3" y1="360" x2="638" y2="360" stroke="#000" stroke-width="1.6" stroke-linecap="butt"/>
<text x="655.4" y="357" font-size="12" fill="#000" text-anchor="middle" font-weight="normal">n.s.</text>
<line x1="646.7" y1="360" x2="663.4" y2="360" stroke="#000" stroke-width="1.6" stroke-linecap="butt"/>
<text transform="translate(623.7 481.8) rotate(-90) scale(0.93 1)" font-size="12" fill="#000" text-anchor="end">Control</text>
<text transform="translate(644.9 481.8) rotate(-90) scale(0.93 1)" font-size="12" fill="#000" text-anchor="end">Muscarine</text>
<text transform="translate(665.9 481.8) rotate(-90) scale(0.93 1)" font-size="12" fill="#000" text-anchor="end">Washout</text>
</g>
<g id="E">
<text x="685.4" y="13.5" font-size="17.2" fill="#000" text-anchor="start" font-weight="bold">E</text>
<text x="729.6" y="40.5" font-size="12" fill="#000" text-anchor="middle" font-weight="normal">Muscarine</text>
<line x1="729.9" y1="45.3" x2="729.9" y2="73.3" stroke="#000" stroke-width="2.1" stroke-linecap="butt"/>
<path d="M729.9 81.3 L724.1999999999999 68.1 Q729.9 71.5 735.6 68.1 Z" fill="#000"/>
<circle cx="729.9" cy="116.3" r="24.6" fill="#c8b6e8"/>
<line x1="729.9" y1="139.9" x2="729.9" y2="152" stroke="#c8b6e8" stroke-width="1.9" stroke-linecap="butt"/>
<path d="M729.9 150 L724.6999999999999 158.2 H735.1 Z" fill="#c8b6e8"/>
<rect x="718.4" y="109.2" width="23" height="23.7" fill="#c2aee6" stroke="#ece4f8" stroke-width="1.1"/>
<rect x="726.1" y="119.8" width="7.6" height="3.8" fill="#000"/>
<text x="729.6" y="199.5" font-size="12" fill="#000" text-anchor="middle" font-weight="normal">Muscarine</text>
<line x1="729.9" y1="204.3" x2="729.9" y2="232.1" stroke="#000" stroke-width="2.1" stroke-linecap="butt"/>
<path d="M729.9 240.1 L724.1999999999999 226.9 Q729.9 230.29999999999998 735.6 226.9 Z" fill="#000"/>
<circle cx="729.9" cy="273.9" r="24.6" fill="#b5dea0"/>
<line x1="729.9" y1="297.5" x2="729.9" y2="312.2" stroke="#b5dea0" stroke-width="1.9" stroke-linecap="butt"/>
<path d="M729.9 310.2 L724.6999999999999 317.2 H735.1 Z" fill="#b5dea0"/>
<rect x="718.4" y="268.6" width="23" height="23.7" fill="#aedb99" stroke="#e4f4da" stroke-width="1.1"/>
<path d="M723.8 280.5 H736.0 M729.9 274.3 V286.7" stroke="#000" stroke-width="2.2" fill="none"/>
<text x="729.6" y="359.7" font-size="12" fill="#000" text-anchor="middle" font-weight="normal">Muscarine</text>
<line x1="729.9" y1="364.5" x2="729.9" y2="393.8" stroke="#000" stroke-width="2.1" stroke-linecap="butt"/>
<path d="M729.9 401.8 L724.1999999999999 388.6 Q729.9 392.0 735.6 388.6 Z" fill="#000"/>
<circle cx="729.9" cy="435.0" r="24.6" fill="#d9a9b8"/>
<line x1="729.9" y1="458.6" x2="729.9" y2="472.6" stroke="#d9a9b8" stroke-width="1.9" stroke-linecap="butt"/>
<path d="M729.9 470.6 L724.6999999999999 477.9 H735.1 Z" fill="#d9a9b8"/>
<rect x="718.4" y="430.1" width="23" height="22.7" fill="#d5a2b2" stroke="#f3e0e6" stroke-width="1.1"/>
<path d="M723.8 441.6 H736.0 M729.9 435.40000000000003 V447.8" stroke="#000" stroke-width="2.2" fill="none"/>
</g>
</svg>
</body></html>
